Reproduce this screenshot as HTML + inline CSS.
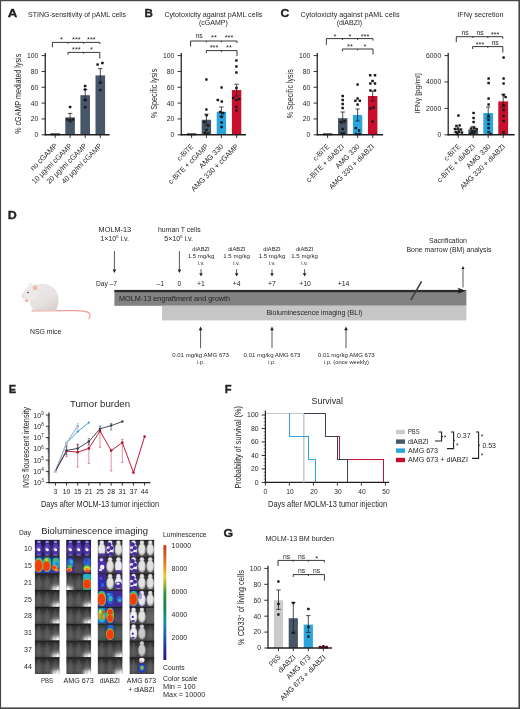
<!DOCTYPE html>
<html lang="en"><head><meta charset="utf-8"><title>Figure</title>
<style>html,body{margin:0;padding:0;background:#fff}svg{display:block;opacity:0.999}text{font-family:"Liberation Sans", sans-serif;fill:#231f20}</style></head><body>
<svg width="520" height="709" viewBox="0 0 520 709">
<rect x="0" y="0" width="520" height="709" fill="#fff"/>
<text x="7.80" y="17.30" font-size="11.8" font-weight="bold" textLength="9.60" lengthAdjust="spacingAndGlyphs" stroke="#231f20" stroke-width="0.35">A</text>
<text x="28.00" y="16.50" font-size="7.2" textLength="98.00" lengthAdjust="spacingAndGlyphs">STING-sensitivity of pAML cells</text>
<text x="20.60" y="93.80" font-size="8.8" text-anchor="middle" transform="rotate(-90 20.60 93.80)" textLength="80.00" lengthAdjust="spacingAndGlyphs">% cGAMP mediated lysis</text>
<rect x="65.30" y="117.38" width="9.60" height="17.42" fill="#475668"/>
<rect x="80.40" y="95.20" width="9.60" height="39.60" fill="#475668"/>
<rect x="95.50" y="75.40" width="9.60" height="59.40" fill="#475668"/>
<line x1="45.25" y1="53.00" x2="45.25" y2="135.40" stroke="#231f20" stroke-width="1.25"/>
<line x1="44.65" y1="134.80" x2="109.60" y2="134.80" stroke="#231f20" stroke-width="1.4"/>
<line x1="41.55" y1="134.80" x2="45.25" y2="134.80" stroke="#231f20" stroke-width="0.9"/>
<text x="38.25" y="137.20" font-size="6.8" text-anchor="end">0</text>
<line x1="41.55" y1="118.96" x2="45.25" y2="118.96" stroke="#231f20" stroke-width="0.9"/>
<text x="38.25" y="121.36" font-size="6.8" text-anchor="end">20</text>
<line x1="41.55" y1="103.12" x2="45.25" y2="103.12" stroke="#231f20" stroke-width="0.9"/>
<text x="38.25" y="105.52" font-size="6.8" text-anchor="end">40</text>
<line x1="41.55" y1="87.28" x2="45.25" y2="87.28" stroke="#231f20" stroke-width="0.9"/>
<text x="38.25" y="89.68" font-size="6.8" text-anchor="end">60</text>
<line x1="41.55" y1="71.44" x2="45.25" y2="71.44" stroke="#231f20" stroke-width="0.9"/>
<text x="38.25" y="73.84" font-size="6.8" text-anchor="end">80</text>
<line x1="41.55" y1="55.60" x2="45.25" y2="55.60" stroke="#231f20" stroke-width="0.9"/>
<text x="38.25" y="58.00" font-size="6.8" text-anchor="end">100</text>
<line x1="55.20" y1="134.80" x2="55.20" y2="138.00" stroke="#231f20" stroke-width="0.9"/>
<line x1="50.40" y1="134.30" x2="60.00" y2="134.30" stroke="#141414" stroke-width="1.8"/>
<line x1="70.10" y1="134.80" x2="70.10" y2="138.00" stroke="#231f20" stroke-width="0.9"/>
<line x1="70.10" y1="113.40" x2="70.10" y2="122.00" stroke="#231f20" stroke-width="0.8"/>
<line x1="67.90" y1="113.40" x2="72.30" y2="113.40" stroke="#231f20" stroke-width="0.8"/>
<line x1="67.90" y1="122.00" x2="72.30" y2="122.00" stroke="#231f20" stroke-width="0.8"/>
<rect x="68.85" y="105.75" width="2.5" height="2.5" rx="0.55" fill="#1a1a1a"/>
<rect x="65.95" y="118.35" width="2.5" height="2.5" rx="0.55" fill="#1a1a1a"/>
<rect x="68.95" y="118.95" width="2.5" height="2.5" rx="0.55" fill="#1a1a1a"/>
<rect x="71.75" y="118.15" width="2.5" height="2.5" rx="0.55" fill="#1a1a1a"/>
<line x1="85.20" y1="134.80" x2="85.20" y2="138.00" stroke="#231f20" stroke-width="0.9"/>
<line x1="85.20" y1="89.60" x2="85.20" y2="100.40" stroke="#231f20" stroke-width="0.8"/>
<line x1="83.00" y1="89.60" x2="87.40" y2="89.60" stroke="#231f20" stroke-width="0.8"/>
<line x1="83.00" y1="100.40" x2="87.40" y2="100.40" stroke="#231f20" stroke-width="0.8"/>
<rect x="83.95" y="84.75" width="2.5" height="2.5" rx="0.55" fill="#1a1a1a"/>
<rect x="83.95" y="88.15" width="2.5" height="2.5" rx="0.55" fill="#1a1a1a"/>
<rect x="83.95" y="98.75" width="2.5" height="2.5" rx="0.55" fill="#1a1a1a"/>
<rect x="83.95" y="105.95" width="2.5" height="2.5" rx="0.55" fill="#1a1a1a"/>
<line x1="100.30" y1="134.80" x2="100.30" y2="138.00" stroke="#231f20" stroke-width="0.9"/>
<line x1="100.30" y1="68.60" x2="100.30" y2="83.00" stroke="#231f20" stroke-width="0.8"/>
<line x1="98.10" y1="68.60" x2="102.50" y2="68.60" stroke="#231f20" stroke-width="0.8"/>
<line x1="98.10" y1="83.00" x2="102.50" y2="83.00" stroke="#231f20" stroke-width="0.8"/>
<rect x="96.35" y="63.35" width="2.5" height="2.5" rx="0.55" fill="#1a1a1a"/>
<rect x="101.15" y="61.75" width="2.5" height="2.5" rx="0.55" fill="#1a1a1a"/>
<rect x="99.05" y="81.35" width="2.5" height="2.5" rx="0.55" fill="#1a1a1a"/>
<rect x="99.05" y="88.75" width="2.5" height="2.5" rx="0.55" fill="#1a1a1a"/>
<path d="M52.40 47.20V42.40H99.80V44.00" stroke="#231f20" stroke-width="0.9" fill="none"/>
<line x1="68.00" y1="42.40" x2="68.00" y2="43.70" stroke="#231f20" stroke-width="0.9"/>
<line x1="83.60" y1="42.40" x2="83.60" y2="43.70" stroke="#231f20" stroke-width="0.9"/>
<path d="M68.00 54.80V52.40H99.80V58.40" stroke="#231f20" stroke-width="0.9" fill="none"/>
<line x1="83.60" y1="52.40" x2="83.60" y2="53.70" stroke="#231f20" stroke-width="0.9"/>
<text x="61.40" y="41.90" font-size="7.4" text-anchor="middle">*</text>
<text x="76.40" y="41.90" font-size="7.4" text-anchor="middle">***</text>
<text x="91.40" y="41.90" font-size="7.4" text-anchor="middle">***</text>
<text x="76.40" y="52.00" font-size="7.4" text-anchor="middle">***</text>
<text x="91.40" y="52.00" font-size="7.4" text-anchor="middle">*</text>
<text x="57.80" y="146.40" font-size="7.4" text-anchor="end" transform="rotate(-45 57.80 146.40)" textLength="34.80" lengthAdjust="spacingAndGlyphs">no cGAMP</text>
<text x="72.60" y="146.40" font-size="7.4" text-anchor="end" transform="rotate(-45 72.60 146.40)" textLength="53.50" lengthAdjust="spacingAndGlyphs">10 µg/ml cGAMP</text>
<text x="87.40" y="146.40" font-size="7.4" text-anchor="end" transform="rotate(-45 87.40 146.40)" textLength="53.50" lengthAdjust="spacingAndGlyphs">20 µg/ml cGAMP</text>
<text x="102.40" y="146.40" font-size="7.4" text-anchor="end" transform="rotate(-45 102.40 146.40)" textLength="53.50" lengthAdjust="spacingAndGlyphs">40 µg/ml cGAMP</text>
<text x="144.60" y="17.30" font-size="11.8" font-weight="bold" textLength="8.40" lengthAdjust="spacingAndGlyphs" stroke="#231f20" stroke-width="0.35">B</text>
<text x="213.40" y="16.50" font-size="7.2" text-anchor="middle" textLength="98.00" lengthAdjust="spacingAndGlyphs">Cytotoxicity against pAML cells</text>
<text x="213.40" y="25.20" font-size="7.2" text-anchor="middle" textLength="28.80" lengthAdjust="spacingAndGlyphs">(cGAMP)</text>
<text x="157.30" y="93.40" font-size="8.8" text-anchor="middle" transform="rotate(-90 157.30 93.40)" textLength="49.40" lengthAdjust="spacingAndGlyphs">% Specific lysis</text>
<rect x="201.70" y="119.75" width="9.40" height="15.05" fill="#475668"/>
<rect x="216.70" y="111.83" width="9.40" height="22.97" fill="#2aa5de"/>
<rect x="231.90" y="90.05" width="9.40" height="44.75" fill="#c8102e"/>
<line x1="181.25" y1="53.00" x2="181.25" y2="135.40" stroke="#231f20" stroke-width="1.25"/>
<line x1="180.65" y1="134.80" x2="246.00" y2="134.80" stroke="#231f20" stroke-width="1.4"/>
<line x1="177.55" y1="134.80" x2="181.25" y2="134.80" stroke="#231f20" stroke-width="0.9"/>
<text x="174.25" y="137.20" font-size="6.8" text-anchor="end">0</text>
<line x1="177.55" y1="118.96" x2="181.25" y2="118.96" stroke="#231f20" stroke-width="0.9"/>
<text x="174.25" y="121.36" font-size="6.8" text-anchor="end">20</text>
<line x1="177.55" y1="103.12" x2="181.25" y2="103.12" stroke="#231f20" stroke-width="0.9"/>
<text x="174.25" y="105.52" font-size="6.8" text-anchor="end">40</text>
<line x1="177.55" y1="87.28" x2="181.25" y2="87.28" stroke="#231f20" stroke-width="0.9"/>
<text x="174.25" y="89.68" font-size="6.8" text-anchor="end">60</text>
<line x1="177.55" y1="71.44" x2="181.25" y2="71.44" stroke="#231f20" stroke-width="0.9"/>
<text x="174.25" y="73.84" font-size="6.8" text-anchor="end">80</text>
<line x1="177.55" y1="55.60" x2="181.25" y2="55.60" stroke="#231f20" stroke-width="0.9"/>
<text x="174.25" y="58.00" font-size="6.8" text-anchor="end">100</text>
<line x1="191.60" y1="134.80" x2="191.60" y2="138.00" stroke="#231f20" stroke-width="0.9"/>
<line x1="186.90" y1="134.30" x2="196.30" y2="134.30" stroke="#141414" stroke-width="1.8"/>
<line x1="206.40" y1="134.80" x2="206.40" y2="138.00" stroke="#231f20" stroke-width="0.9"/>
<line x1="206.40" y1="114.20" x2="206.40" y2="125.20" stroke="#231f20" stroke-width="0.8"/>
<line x1="204.20" y1="114.20" x2="208.60" y2="114.20" stroke="#231f20" stroke-width="0.8"/>
<line x1="204.20" y1="125.20" x2="208.60" y2="125.20" stroke="#231f20" stroke-width="0.8"/>
<rect x="205.15" y="78.15" width="2.5" height="2.5" rx="0.55" fill="#1a1a1a"/>
<rect x="205.15" y="108.15" width="2.5" height="2.5" rx="0.55" fill="#1a1a1a"/>
<rect x="205.35" y="113.95" width="2.5" height="2.5" rx="0.55" fill="#1a1a1a"/>
<rect x="202.95" y="120.75" width="2.5" height="2.5" rx="0.55" fill="#1a1a1a"/>
<rect x="206.95" y="124.15" width="2.5" height="2.5" rx="0.55" fill="#1a1a1a"/>
<rect x="205.15" y="128.75" width="2.5" height="2.5" rx="0.55" fill="#1a1a1a"/>
<rect x="203.75" y="131.75" width="2.5" height="2.5" rx="0.55" fill="#1a1a1a"/>
<rect x="206.75" y="132.55" width="2.5" height="2.5" rx="0.55" fill="#1a1a1a"/>
<line x1="221.40" y1="134.80" x2="221.40" y2="138.00" stroke="#231f20" stroke-width="0.9"/>
<line x1="221.40" y1="107.00" x2="221.40" y2="116.20" stroke="#231f20" stroke-width="0.8"/>
<line x1="219.20" y1="107.00" x2="223.60" y2="107.00" stroke="#231f20" stroke-width="0.8"/>
<line x1="219.20" y1="116.20" x2="223.60" y2="116.20" stroke="#231f20" stroke-width="0.8"/>
<rect x="220.35" y="86.15" width="2.5" height="2.5" rx="0.55" fill="#1a1a1a"/>
<rect x="216.55" y="98.75" width="2.5" height="2.5" rx="0.55" fill="#1a1a1a"/>
<rect x="220.55" y="100.35" width="2.5" height="2.5" rx="0.55" fill="#1a1a1a"/>
<rect x="218.95" y="110.75" width="2.5" height="2.5" rx="0.55" fill="#1a1a1a"/>
<rect x="221.95" y="111.75" width="2.5" height="2.5" rx="0.55" fill="#1a1a1a"/>
<rect x="220.35" y="115.75" width="2.5" height="2.5" rx="0.55" fill="#1a1a1a"/>
<rect x="220.35" y="121.15" width="2.5" height="2.5" rx="0.55" fill="#1a1a1a"/>
<rect x="220.35" y="125.75" width="2.5" height="2.5" rx="0.55" fill="#1a1a1a"/>
<line x1="236.60" y1="134.80" x2="236.60" y2="138.00" stroke="#231f20" stroke-width="0.9"/>
<line x1="236.60" y1="84.20" x2="236.60" y2="96.00" stroke="#231f20" stroke-width="0.8"/>
<line x1="234.40" y1="84.20" x2="238.80" y2="84.20" stroke="#231f20" stroke-width="0.8"/>
<line x1="234.40" y1="96.00" x2="238.80" y2="96.00" stroke="#231f20" stroke-width="0.8"/>
<rect x="235.15" y="59.15" width="2.5" height="2.5" rx="0.55" fill="#1a1a1a"/>
<rect x="235.15" y="65.15" width="2.5" height="2.5" rx="0.55" fill="#1a1a1a"/>
<rect x="235.15" y="71.35" width="2.5" height="2.5" rx="0.55" fill="#1a1a1a"/>
<rect x="235.15" y="86.75" width="2.5" height="2.5" rx="0.55" fill="#1a1a1a"/>
<rect x="231.95" y="96.75" width="2.5" height="2.5" rx="0.55" fill="#1a1a1a"/>
<rect x="237.95" y="97.75" width="2.5" height="2.5" rx="0.55" fill="#1a1a1a"/>
<rect x="235.15" y="98.75" width="2.5" height="2.5" rx="0.55" fill="#1a1a1a"/>
<rect x="235.15" y="105.75" width="2.5" height="2.5" rx="0.55" fill="#1a1a1a"/>
<rect x="235.15" y="109.35" width="2.5" height="2.5" rx="0.55" fill="#1a1a1a"/>
<path d="M190.60 46.40V41.00H237.00V43.00" stroke="#231f20" stroke-width="0.9" fill="none"/>
<line x1="206.40" y1="41.00" x2="206.40" y2="42.30" stroke="#231f20" stroke-width="0.9"/>
<line x1="221.40" y1="41.00" x2="221.40" y2="42.30" stroke="#231f20" stroke-width="0.9"/>
<path d="M206.40 53.00V50.60H237.00V56.00" stroke="#231f20" stroke-width="0.9" fill="none"/>
<line x1="221.40" y1="50.60" x2="221.40" y2="51.90" stroke="#231f20" stroke-width="0.9"/>
<text x="199.00" y="38.20" font-size="6.8" text-anchor="middle">ns</text>
<text x="214.00" y="40.40" font-size="7.4" text-anchor="middle">**</text>
<text x="229.00" y="40.40" font-size="7.4" text-anchor="middle">***</text>
<text x="214.00" y="50.40" font-size="7.4" text-anchor="middle">***</text>
<text x="229.00" y="50.40" font-size="7.4" text-anchor="middle">**</text>
<text x="193.80" y="147.00" font-size="7.4" text-anchor="end" transform="rotate(-45 193.80 147.00)" textLength="20.00" lengthAdjust="spacingAndGlyphs">c-BiTE</text>
<text x="208.80" y="147.00" font-size="7.4" text-anchor="end" transform="rotate(-45 208.80 147.00)" textLength="53.00" lengthAdjust="spacingAndGlyphs">c-BiTE + cGAMP</text>
<text x="224.00" y="147.00" font-size="7.4" text-anchor="end" transform="rotate(-45 224.00 147.00)" textLength="31.00" lengthAdjust="spacingAndGlyphs">AMG 330</text>
<text x="239.00" y="147.00" font-size="7.4" text-anchor="end" transform="rotate(-45 239.00 147.00)" textLength="63.50" lengthAdjust="spacingAndGlyphs">AMG 330 + cGAMP</text>
<text x="280.40" y="17.30" font-size="11.8" font-weight="bold" textLength="8.80" lengthAdjust="spacingAndGlyphs" stroke="#231f20" stroke-width="0.35">C</text>
<text x="350.00" y="16.50" font-size="7.2" text-anchor="middle" textLength="99.00" lengthAdjust="spacingAndGlyphs">Cytotoxicity against pAML cells</text>
<text x="349.40" y="25.20" font-size="7.2" text-anchor="middle" textLength="25.50" lengthAdjust="spacingAndGlyphs">(diABZI)</text>
<text x="293.20" y="93.70" font-size="8.8" text-anchor="middle" transform="rotate(-90 293.20 93.70)" textLength="49.00" lengthAdjust="spacingAndGlyphs">% Specific lysis</text>
<rect x="338.00" y="118.17" width="9.40" height="16.63" fill="#475668"/>
<rect x="352.90" y="115.00" width="9.40" height="19.80" fill="#2aa5de"/>
<rect x="368.00" y="95.99" width="9.40" height="38.81" fill="#c8102e"/>
<line x1="317.25" y1="53.00" x2="317.25" y2="135.40" stroke="#231f20" stroke-width="1.25"/>
<line x1="316.65" y1="134.80" x2="383.00" y2="134.80" stroke="#231f20" stroke-width="1.4"/>
<line x1="313.55" y1="134.80" x2="317.25" y2="134.80" stroke="#231f20" stroke-width="0.9"/>
<text x="310.25" y="137.20" font-size="6.8" text-anchor="end">0</text>
<line x1="313.55" y1="118.96" x2="317.25" y2="118.96" stroke="#231f20" stroke-width="0.9"/>
<text x="310.25" y="121.36" font-size="6.8" text-anchor="end">20</text>
<line x1="313.55" y1="103.12" x2="317.25" y2="103.12" stroke="#231f20" stroke-width="0.9"/>
<text x="310.25" y="105.52" font-size="6.8" text-anchor="end">40</text>
<line x1="313.55" y1="87.28" x2="317.25" y2="87.28" stroke="#231f20" stroke-width="0.9"/>
<text x="310.25" y="89.68" font-size="6.8" text-anchor="end">60</text>
<line x1="313.55" y1="71.44" x2="317.25" y2="71.44" stroke="#231f20" stroke-width="0.9"/>
<text x="310.25" y="73.84" font-size="6.8" text-anchor="end">80</text>
<line x1="313.55" y1="55.60" x2="317.25" y2="55.60" stroke="#231f20" stroke-width="0.9"/>
<text x="310.25" y="58.00" font-size="6.8" text-anchor="end">100</text>
<line x1="327.60" y1="134.80" x2="327.60" y2="138.00" stroke="#231f20" stroke-width="0.9"/>
<line x1="322.90" y1="134.30" x2="332.30" y2="134.30" stroke="#141414" stroke-width="1.8"/>
<line x1="342.70" y1="134.80" x2="342.70" y2="138.00" stroke="#231f20" stroke-width="0.9"/>
<line x1="342.70" y1="112.00" x2="342.70" y2="123.00" stroke="#231f20" stroke-width="0.8"/>
<line x1="340.50" y1="112.00" x2="344.90" y2="112.00" stroke="#231f20" stroke-width="0.8"/>
<line x1="340.50" y1="123.00" x2="344.90" y2="123.00" stroke="#231f20" stroke-width="0.8"/>
<rect x="341.45" y="94.75" width="2.5" height="2.5" rx="0.55" fill="#1a1a1a"/>
<rect x="341.45" y="98.75" width="2.5" height="2.5" rx="0.55" fill="#1a1a1a"/>
<rect x="341.45" y="102.75" width="2.5" height="2.5" rx="0.55" fill="#1a1a1a"/>
<rect x="341.45" y="106.75" width="2.5" height="2.5" rx="0.55" fill="#1a1a1a"/>
<rect x="343.35" y="119.75" width="2.5" height="2.5" rx="0.55" fill="#1a1a1a"/>
<rect x="339.55" y="120.75" width="2.5" height="2.5" rx="0.55" fill="#1a1a1a"/>
<rect x="341.45" y="127.75" width="2.5" height="2.5" rx="0.55" fill="#1a1a1a"/>
<rect x="340.35" y="132.35" width="2.5" height="2.5" rx="0.55" fill="#1a1a1a"/>
<rect x="342.75" y="132.35" width="2.5" height="2.5" rx="0.55" fill="#1a1a1a"/>
<line x1="357.60" y1="134.80" x2="357.60" y2="138.00" stroke="#231f20" stroke-width="0.9"/>
<line x1="357.60" y1="109.00" x2="357.60" y2="121.00" stroke="#231f20" stroke-width="0.8"/>
<line x1="355.40" y1="109.00" x2="359.80" y2="109.00" stroke="#231f20" stroke-width="0.8"/>
<line x1="355.40" y1="121.00" x2="359.80" y2="121.00" stroke="#231f20" stroke-width="0.8"/>
<rect x="356.35" y="83.35" width="2.5" height="2.5" rx="0.55" fill="#1a1a1a"/>
<rect x="356.35" y="97.15" width="2.5" height="2.5" rx="0.55" fill="#1a1a1a"/>
<rect x="354.15" y="99.55" width="2.5" height="2.5" rx="0.55" fill="#1a1a1a"/>
<rect x="358.55" y="99.55" width="2.5" height="2.5" rx="0.55" fill="#1a1a1a"/>
<rect x="356.35" y="103.35" width="2.5" height="2.5" rx="0.55" fill="#1a1a1a"/>
<rect x="354.55" y="126.75" width="2.5" height="2.5" rx="0.55" fill="#1a1a1a"/>
<rect x="357.75" y="129.15" width="2.5" height="2.5" rx="0.55" fill="#1a1a1a"/>
<rect x="354.95" y="132.75" width="2.5" height="2.5" rx="0.55" fill="#1a1a1a"/>
<rect x="358.35" y="132.75" width="2.5" height="2.5" rx="0.55" fill="#1a1a1a"/>
<line x1="372.70" y1="134.80" x2="372.70" y2="138.00" stroke="#231f20" stroke-width="0.9"/>
<line x1="372.70" y1="91.00" x2="372.70" y2="101.00" stroke="#231f20" stroke-width="0.8"/>
<line x1="370.50" y1="91.00" x2="374.90" y2="91.00" stroke="#231f20" stroke-width="0.8"/>
<line x1="370.50" y1="101.00" x2="374.90" y2="101.00" stroke="#231f20" stroke-width="0.8"/>
<rect x="368.95" y="73.95" width="2.5" height="2.5" rx="0.55" fill="#1a1a1a"/>
<rect x="373.75" y="73.95" width="2.5" height="2.5" rx="0.55" fill="#1a1a1a"/>
<rect x="371.35" y="79.75" width="2.5" height="2.5" rx="0.55" fill="#1a1a1a"/>
<rect x="369.15" y="82.15" width="2.5" height="2.5" rx="0.55" fill="#1a1a1a"/>
<rect x="373.75" y="82.15" width="2.5" height="2.5" rx="0.55" fill="#1a1a1a"/>
<rect x="369.15" y="89.15" width="2.5" height="2.5" rx="0.55" fill="#1a1a1a"/>
<rect x="373.75" y="89.15" width="2.5" height="2.5" rx="0.55" fill="#1a1a1a"/>
<rect x="372.35" y="106.35" width="2.5" height="2.5" rx="0.55" fill="#1a1a1a"/>
<rect x="369.35" y="107.35" width="2.5" height="2.5" rx="0.55" fill="#1a1a1a"/>
<rect x="371.35" y="120.35" width="2.5" height="2.5" rx="0.55" fill="#1a1a1a"/>
<path d="M326.40 44.80V38.60H373.00V40.60" stroke="#231f20" stroke-width="0.9" fill="none"/>
<line x1="342.40" y1="38.60" x2="342.40" y2="39.90" stroke="#231f20" stroke-width="0.9"/>
<line x1="357.60" y1="38.60" x2="357.60" y2="39.90" stroke="#231f20" stroke-width="0.9"/>
<path d="M342.40 51.40V49.00H373.00V54.40" stroke="#231f20" stroke-width="0.9" fill="none"/>
<line x1="357.60" y1="49.00" x2="357.60" y2="50.30" stroke="#231f20" stroke-width="0.9"/>
<text x="335.00" y="38.80" font-size="7.4" text-anchor="middle">*</text>
<text x="350.00" y="38.80" font-size="7.4" text-anchor="middle">*</text>
<text x="365.00" y="38.80" font-size="7.4" text-anchor="middle">***</text>
<text x="350.00" y="49.40" font-size="7.4" text-anchor="middle">**</text>
<text x="365.00" y="49.40" font-size="7.4" text-anchor="middle">*</text>
<text x="329.80" y="147.00" font-size="7.4" text-anchor="end" transform="rotate(-45 329.80 147.00)" textLength="20.00" lengthAdjust="spacingAndGlyphs">c-BiTE</text>
<text x="344.60" y="147.00" font-size="7.4" text-anchor="end" transform="rotate(-45 344.60 147.00)" textLength="50.40" lengthAdjust="spacingAndGlyphs">c-BiTE + diABZI</text>
<text x="360.20" y="147.00" font-size="7.4" text-anchor="end" transform="rotate(-45 360.20 147.00)" textLength="31.00" lengthAdjust="spacingAndGlyphs">AMG 330</text>
<text x="374.80" y="147.00" font-size="7.4" text-anchor="end" transform="rotate(-45 374.80 147.00)" textLength="60.60" lengthAdjust="spacingAndGlyphs">AMG 330 + diABZI</text>
<text x="480.40" y="16.50" font-size="7.2" text-anchor="middle" textLength="46.20" lengthAdjust="spacingAndGlyphs">IFNγ secretion</text>
<text x="419.70" y="93.40" font-size="7.6" text-anchor="middle" transform="rotate(-90 419.70 93.40)" textLength="40.60" lengthAdjust="spacingAndGlyphs">IFNγ [pg/ml]</text>
<rect x="453.30" y="131.10" width="9.80" height="3.70" fill="#cbcbcb"/>
<rect x="468.30" y="129.52" width="9.80" height="5.28" fill="#475668"/>
<rect x="483.30" y="113.02" width="9.80" height="21.78" fill="#2aa5de"/>
<rect x="498.30" y="101.40" width="9.80" height="33.40" fill="#c8102e"/>
<line x1="448.20" y1="53.00" x2="448.20" y2="135.40" stroke="#231f20" stroke-width="1.25"/>
<line x1="447.60" y1="134.80" x2="514.60" y2="134.80" stroke="#231f20" stroke-width="1.4"/>
<line x1="444.50" y1="134.80" x2="448.20" y2="134.80" stroke="#231f20" stroke-width="0.9"/>
<text x="441.20" y="137.20" font-size="6.8" text-anchor="end">0</text>
<line x1="444.50" y1="108.40" x2="448.20" y2="108.40" stroke="#231f20" stroke-width="0.9"/>
<text x="441.20" y="110.80" font-size="6.8" text-anchor="end">2000</text>
<line x1="444.50" y1="82.00" x2="448.20" y2="82.00" stroke="#231f20" stroke-width="0.9"/>
<text x="441.20" y="84.40" font-size="6.8" text-anchor="end">4000</text>
<line x1="444.50" y1="55.60" x2="448.20" y2="55.60" stroke="#231f20" stroke-width="0.9"/>
<text x="441.20" y="58.00" font-size="6.8" text-anchor="end">6000</text>
<line x1="458.20" y1="134.80" x2="458.20" y2="138.00" stroke="#231f20" stroke-width="0.9"/>
<line x1="458.20" y1="129.40" x2="458.20" y2="132.60" stroke="#231f20" stroke-width="0.8"/>
<line x1="456.00" y1="129.40" x2="460.40" y2="129.40" stroke="#231f20" stroke-width="0.8"/>
<line x1="456.00" y1="132.60" x2="460.40" y2="132.60" stroke="#231f20" stroke-width="0.8"/>
<rect x="457.15" y="114.35" width="2.5" height="2.5" rx="0.55" fill="#1a1a1a"/>
<rect x="455.15" y="124.75" width="2.5" height="2.5" rx="0.55" fill="#1a1a1a"/>
<rect x="458.35" y="124.15" width="2.5" height="2.5" rx="0.55" fill="#1a1a1a"/>
<rect x="453.75" y="127.75" width="2.5" height="2.5" rx="0.55" fill="#1a1a1a"/>
<rect x="456.75" y="127.35" width="2.5" height="2.5" rx="0.55" fill="#1a1a1a"/>
<rect x="459.75" y="128.15" width="2.5" height="2.5" rx="0.55" fill="#1a1a1a"/>
<rect x="454.75" y="130.75" width="2.5" height="2.5" rx="0.55" fill="#1a1a1a"/>
<rect x="457.75" y="130.35" width="2.5" height="2.5" rx="0.55" fill="#1a1a1a"/>
<rect x="460.75" y="131.35" width="2.5" height="2.5" rx="0.55" fill="#1a1a1a"/>
<rect x="456.15" y="132.75" width="2.5" height="2.5" rx="0.55" fill="#1a1a1a"/>
<line x1="473.20" y1="134.80" x2="473.20" y2="138.00" stroke="#231f20" stroke-width="0.9"/>
<line x1="473.20" y1="126.40" x2="473.20" y2="132.00" stroke="#231f20" stroke-width="0.8"/>
<line x1="471.00" y1="126.40" x2="475.40" y2="126.40" stroke="#231f20" stroke-width="0.8"/>
<line x1="471.00" y1="132.00" x2="475.40" y2="132.00" stroke="#231f20" stroke-width="0.8"/>
<rect x="472.35" y="111.75" width="2.5" height="2.5" rx="0.55" fill="#1a1a1a"/>
<rect x="472.35" y="116.75" width="2.5" height="2.5" rx="0.55" fill="#1a1a1a"/>
<rect x="472.35" y="120.75" width="2.5" height="2.5" rx="0.55" fill="#1a1a1a"/>
<rect x="469.75" y="127.35" width="2.5" height="2.5" rx="0.55" fill="#1a1a1a"/>
<rect x="472.75" y="126.75" width="2.5" height="2.5" rx="0.55" fill="#1a1a1a"/>
<rect x="475.35" y="127.75" width="2.5" height="2.5" rx="0.55" fill="#1a1a1a"/>
<rect x="470.75" y="130.35" width="2.5" height="2.5" rx="0.55" fill="#1a1a1a"/>
<rect x="473.75" y="130.15" width="2.5" height="2.5" rx="0.55" fill="#1a1a1a"/>
<rect x="472.35" y="132.55" width="2.5" height="2.5" rx="0.55" fill="#1a1a1a"/>
<rect x="469.35" y="132.55" width="2.5" height="2.5" rx="0.55" fill="#1a1a1a"/>
<line x1="488.20" y1="134.80" x2="488.20" y2="138.00" stroke="#231f20" stroke-width="0.9"/>
<line x1="488.20" y1="107.00" x2="488.20" y2="118.00" stroke="#231f20" stroke-width="0.8"/>
<line x1="486.00" y1="107.00" x2="490.40" y2="107.00" stroke="#231f20" stroke-width="0.8"/>
<line x1="486.00" y1="118.00" x2="490.40" y2="118.00" stroke="#231f20" stroke-width="0.8"/>
<rect x="487.35" y="77.35" width="2.5" height="2.5" rx="0.55" fill="#1a1a1a"/>
<rect x="487.35" y="81.75" width="2.5" height="2.5" rx="0.55" fill="#1a1a1a"/>
<rect x="487.35" y="97.35" width="2.5" height="2.5" rx="0.55" fill="#1a1a1a"/>
<rect x="487.35" y="103.15" width="2.5" height="2.5" rx="0.55" fill="#1a1a1a"/>
<rect x="487.35" y="114.75" width="2.5" height="2.5" rx="0.55" fill="#1a1a1a"/>
<rect x="487.35" y="118.75" width="2.5" height="2.5" rx="0.55" fill="#1a1a1a"/>
<rect x="487.35" y="122.75" width="2.5" height="2.5" rx="0.55" fill="#1a1a1a"/>
<rect x="487.35" y="126.75" width="2.5" height="2.5" rx="0.55" fill="#1a1a1a"/>
<rect x="487.35" y="130.75" width="2.5" height="2.5" rx="0.55" fill="#1a1a1a"/>
<rect x="489.35" y="132.75" width="2.5" height="2.5" rx="0.55" fill="#1a1a1a"/>
<line x1="503.20" y1="134.80" x2="503.20" y2="138.00" stroke="#231f20" stroke-width="0.9"/>
<line x1="503.20" y1="94.20" x2="503.20" y2="107.00" stroke="#231f20" stroke-width="0.8"/>
<line x1="501.00" y1="94.20" x2="505.40" y2="94.20" stroke="#231f20" stroke-width="0.8"/>
<line x1="501.00" y1="107.00" x2="505.40" y2="107.00" stroke="#231f20" stroke-width="0.8"/>
<rect x="502.35" y="56.35" width="2.5" height="2.5" rx="0.55" fill="#1a1a1a"/>
<rect x="502.35" y="77.35" width="2.5" height="2.5" rx="0.55" fill="#1a1a1a"/>
<rect x="502.35" y="82.15" width="2.5" height="2.5" rx="0.55" fill="#1a1a1a"/>
<rect x="502.35" y="93.75" width="2.5" height="2.5" rx="0.55" fill="#1a1a1a"/>
<rect x="504.35" y="95.75" width="2.5" height="2.5" rx="0.55" fill="#1a1a1a"/>
<rect x="502.35" y="103.75" width="2.5" height="2.5" rx="0.55" fill="#1a1a1a"/>
<rect x="502.35" y="108.75" width="2.5" height="2.5" rx="0.55" fill="#1a1a1a"/>
<rect x="502.35" y="114.75" width="2.5" height="2.5" rx="0.55" fill="#1a1a1a"/>
<rect x="502.35" y="119.75" width="2.5" height="2.5" rx="0.55" fill="#1a1a1a"/>
<rect x="502.35" y="131.15" width="2.5" height="2.5" rx="0.55" fill="#1a1a1a"/>
<path d="M456.30 42.10V36.70H502.80V38.70" stroke="#231f20" stroke-width="0.9" fill="none"/>
<line x1="472.80" y1="36.70" x2="472.80" y2="38.00" stroke="#231f20" stroke-width="0.9"/>
<line x1="487.80" y1="36.70" x2="487.80" y2="38.00" stroke="#231f20" stroke-width="0.9"/>
<path d="M472.60 49.00V46.60H502.80V52.60" stroke="#231f20" stroke-width="0.9" fill="none"/>
<line x1="487.80" y1="46.60" x2="487.80" y2="47.90" stroke="#231f20" stroke-width="0.9"/>
<text x="465.00" y="35.00" font-size="6.8" text-anchor="middle">ns</text>
<text x="480.00" y="35.00" font-size="6.8" text-anchor="middle">ns</text>
<text x="495.00" y="37.20" font-size="7.4" text-anchor="middle">***</text>
<text x="480.00" y="47.00" font-size="7.4" text-anchor="middle">***</text>
<text x="495.00" y="44.80" font-size="6.8" text-anchor="middle">ns</text>
<text x="460.80" y="147.00" font-size="7.4" text-anchor="end" transform="rotate(-45 460.80 147.00)" textLength="20.00" lengthAdjust="spacingAndGlyphs">c-BiTE</text>
<text x="475.60" y="147.00" font-size="7.4" text-anchor="end" transform="rotate(-45 475.60 147.00)" textLength="50.40" lengthAdjust="spacingAndGlyphs">c-BiTE + diABZI</text>
<text x="491.20" y="147.00" font-size="7.4" text-anchor="end" transform="rotate(-45 491.20 147.00)" textLength="31.00" lengthAdjust="spacingAndGlyphs">AMG 330</text>
<text x="505.80" y="147.00" font-size="7.4" text-anchor="end" transform="rotate(-45 505.80 147.00)" textLength="60.60" lengthAdjust="spacingAndGlyphs">AMG 330 + diABZI</text>
<text x="7.80" y="219.20" font-size="11.8" font-weight="bold" textLength="9.00" lengthAdjust="spacingAndGlyphs" stroke="#231f20" stroke-width="0.35">D</text>
<defs><linearGradient id="mb" x1="0.2" y1="0" x2="0.8" y2="1"><stop offset="0" stop-color="#ebe8e7"/><stop offset="0.6" stop-color="#e6e2e1"/><stop offset="1" stop-color="#d8cfce"/></linearGradient></defs>
<g>
<path d="M32 310.9 L70 310.6 C78 310.4 85 310.6 88.2 312.4 C90.6 313.8 90.6 316.6 89.0 318.6" stroke="#ee9f9b" stroke-width="1.25" fill="none" stroke-linecap="round"/>
<path d="M29.6 301 C28.6 293 33 285.6 39 284.2 C48 282.2 58.4 288.5 58.4 299 C58.4 305 57.2 308.4 55.6 310.8 L34.5 311 C32 309 30.2 305 29.6 301Z" fill="url(#mb)"/>
<ellipse cx="30.4" cy="285.6" rx="2.3" ry="2.5" fill="#efecec"/>
<path d="M21.9 295.6 C22.8 290.6 26.8 285.8 32.0 286.0 C36.2 286.4 38.4 291 37.4 295.6 C36.4 300 31.4 302 27.4 301.2 C24.6 300.6 21.7 298.4 21.9 295.6Z" fill="#ece9e8"/>
<ellipse cx="35.0" cy="287.6" rx="3.0" ry="3.1" fill="#eadbd8"/>
<ellipse cx="35.2" cy="287.9" rx="1.9" ry="2.1" fill="#eeb0a8"/>
<circle cx="28.0" cy="292.6" r="0.75" fill="#3a2a2a"/>
<ellipse cx="22.4" cy="296.0" rx="0.8" ry="0.7" fill="#eda9a2"/>
<ellipse cx="26.6" cy="300.8" rx="1.8" ry="1.3" fill="#f0aaa2"/>
<ellipse cx="39.0" cy="310.4" rx="3.6" ry="0.9" fill="#f0c8c2"/>
<ellipse cx="50.0" cy="310.4" rx="4.4" ry="0.9" fill="#f0c8c2"/>
</g>
<text x="45.70" y="334.00" font-size="6.6" text-anchor="middle" textLength="31.40" lengthAdjust="spacingAndGlyphs">NSG mice</text>
<text x="114.90" y="231.90" font-size="6.9" text-anchor="middle" textLength="32.60" lengthAdjust="spacingAndGlyphs">MOLM-13</text>
<text x="114.60" y="240.60" font-size="6.9" text-anchor="middle" textLength="28.80" lengthAdjust="spacingAndGlyphs">1×10<tspan font-size="4" dy="-2.6">6</tspan><tspan dy="2.6"> i.v.</tspan></text>
<line x1="114.40" y1="251.00" x2="114.40" y2="269.80" stroke="#231f20" stroke-width="0.75"/>
<path d="M112.60 269.40L116.20 269.40L114.40 273.00Z" fill="#231f20"/>
<text x="179.30" y="231.90" font-size="6.9" text-anchor="middle" textLength="42.60" lengthAdjust="spacingAndGlyphs">human T cells</text>
<text x="178.60" y="240.60" font-size="6.9" text-anchor="middle" textLength="28.80" lengthAdjust="spacingAndGlyphs">5×10<tspan font-size="4" dy="-2.6">6</tspan><tspan dy="2.6"> i.v.</tspan></text>
<line x1="179.40" y1="251.00" x2="179.40" y2="269.80" stroke="#231f20" stroke-width="0.75"/>
<path d="M177.60 269.40L181.20 269.40L179.40 273.00Z" fill="#231f20"/>
<text x="201.00" y="251.00" font-size="5.5" text-anchor="middle" textLength="17.40" lengthAdjust="spacingAndGlyphs">diABZI</text>
<text x="201.00" y="257.80" font-size="5.5" text-anchor="middle" textLength="26.60" lengthAdjust="spacingAndGlyphs">1.5 mg/kg</text>
<text x="201.00" y="264.80" font-size="5.5" text-anchor="middle">i.v.</text>
<line x1="201.00" y1="269.20" x2="201.00" y2="273.60" stroke="#231f20" stroke-width="0.75"/>
<path d="M199.20 273.20L202.80 273.20L201.00 276.60Z" fill="#231f20"/>
<text x="236.60" y="251.00" font-size="5.5" text-anchor="middle" textLength="17.40" lengthAdjust="spacingAndGlyphs">diABZI</text>
<text x="236.60" y="257.80" font-size="5.5" text-anchor="middle" textLength="26.60" lengthAdjust="spacingAndGlyphs">1.5 mg/kg</text>
<text x="236.60" y="264.80" font-size="5.5" text-anchor="middle">i.v.</text>
<line x1="236.60" y1="269.20" x2="236.60" y2="273.60" stroke="#231f20" stroke-width="0.75"/>
<path d="M234.80 273.20L238.40 273.20L236.60 276.60Z" fill="#231f20"/>
<text x="272.00" y="251.00" font-size="5.5" text-anchor="middle" textLength="17.40" lengthAdjust="spacingAndGlyphs">diABZI</text>
<text x="272.00" y="257.80" font-size="5.5" text-anchor="middle" textLength="26.60" lengthAdjust="spacingAndGlyphs">1.5 mg/kg</text>
<text x="272.00" y="264.80" font-size="5.5" text-anchor="middle">i.v.</text>
<line x1="272.00" y1="269.20" x2="272.00" y2="273.60" stroke="#231f20" stroke-width="0.75"/>
<path d="M270.20 273.20L273.80 273.20L272.00 276.60Z" fill="#231f20"/>
<text x="304.60" y="251.00" font-size="5.5" text-anchor="middle" textLength="17.40" lengthAdjust="spacingAndGlyphs">diABZI</text>
<text x="304.60" y="257.80" font-size="5.5" text-anchor="middle" textLength="26.60" lengthAdjust="spacingAndGlyphs">1.5 mg/kg</text>
<text x="304.60" y="264.80" font-size="5.5" text-anchor="middle">i.v.</text>
<line x1="304.60" y1="269.20" x2="304.60" y2="273.60" stroke="#231f20" stroke-width="0.75"/>
<path d="M302.80 273.20L306.40 273.20L304.60 276.60Z" fill="#231f20"/>
<text x="96.00" y="285.60" font-size="6.9" textLength="21.00" lengthAdjust="spacingAndGlyphs">Day –7</text>
<text x="160.30" y="285.60" font-size="6.9" text-anchor="middle">–1</text>
<text x="179.40" y="285.60" font-size="6.9" text-anchor="middle">0</text>
<text x="201.00" y="285.60" font-size="6.9" text-anchor="middle">+1</text>
<text x="236.60" y="285.60" font-size="6.9" text-anchor="middle">+4</text>
<text x="272.00" y="285.60" font-size="6.9" text-anchor="middle">+7</text>
<text x="305.00" y="285.60" font-size="6.9" text-anchor="middle">+10</text>
<text x="343.60" y="285.60" font-size="6.9" text-anchor="middle">+14</text>
<rect x="114.40" y="290.00" width="352.00" height="15.80" fill="#828282"/>
<rect x="162.00" y="305.70" width="304.40" height="14.70" fill="#c6c6c6"/>
<rect x="114.40" y="289.90" width="346.00" height="2.30" fill="#2b2b2b"/>
<path d="M457.4 287.8L466.0 290.8L457.4 293.8L459.4 290.8Z" fill="#1f1f1f"/>
<text x="119.00" y="301.00" font-size="7.0" textLength="111.00" lengthAdjust="spacingAndGlyphs" fill="#1f1f1f">MOLM-13 engraftment and growth</text>
<text x="266.40" y="314.80" font-size="7.0" textLength="96.00" lengthAdjust="spacingAndGlyphs" fill="#1f1f1f">Bioluminescence imaging (BLI)</text>
<line x1="421.60" y1="281.40" x2="410.80" y2="300.20" stroke="#3f3f3f" stroke-width="1.6"/>
<line x1="463.00" y1="287.40" x2="463.00" y2="268.60" stroke="#231f20" stroke-width="0.75"/>
<path d="M461.50 269.00L464.50 269.00L463.00 266.00Z" fill="#231f20"/>
<text x="448.00" y="243.40" font-size="6.9" text-anchor="middle" textLength="38.00" lengthAdjust="spacingAndGlyphs">Sacrification</text>
<text x="449.00" y="252.00" font-size="6.9" text-anchor="middle" textLength="85.00" lengthAdjust="spacingAndGlyphs">Bone marrow (BM) analysis</text>
<line x1="200.60" y1="348.20" x2="200.60" y2="329.80" stroke="#231f20" stroke-width="0.75"/>
<path d="M198.80 330.20L202.40 330.20L200.60 326.60Z" fill="#231f20"/>
<text x="200.60" y="356.60" font-size="5.5" text-anchor="middle" textLength="56.80" lengthAdjust="spacingAndGlyphs">0.01 mg/kg AMG 673</text>
<text x="200.60" y="364.00" font-size="5.5" text-anchor="middle">i.p.</text>
<line x1="272.00" y1="348.20" x2="272.00" y2="329.80" stroke="#231f20" stroke-width="0.75"/>
<path d="M270.20 330.20L273.80 330.20L272.00 326.60Z" fill="#231f20"/>
<text x="272.00" y="356.60" font-size="5.5" text-anchor="middle" textLength="56.80" lengthAdjust="spacingAndGlyphs">0.01 mg/kg AMG 673</text>
<text x="272.00" y="364.00" font-size="5.5" text-anchor="middle">i.p.</text>
<line x1="346.00" y1="348.20" x2="346.00" y2="329.80" stroke="#231f20" stroke-width="0.75"/>
<path d="M344.20 330.20L347.80 330.20L346.00 326.60Z" fill="#231f20"/>
<text x="346.30" y="356.60" font-size="5.5" text-anchor="middle" textLength="56.80" lengthAdjust="spacingAndGlyphs">0.01 mg/kg AMG 673</text>
<text x="346.50" y="364.00" font-size="5.5" text-anchor="middle" textLength="45.00" lengthAdjust="spacingAndGlyphs">i.p. (once weekly)</text>
<text x="8.80" y="392.50" font-size="11.8" font-weight="bold" textLength="7.40" lengthAdjust="spacingAndGlyphs" stroke="#231f20" stroke-width="0.35">E</text>
<text x="100.00" y="407.40" font-size="9.9" text-anchor="middle" textLength="60.00" lengthAdjust="spacingAndGlyphs">Tumor burden</text>
<text x="28.50" y="447.50" font-size="8.8" text-anchor="middle" transform="rotate(-90 28.50 447.50)" textLength="81.00" lengthAdjust="spacingAndGlyphs">IVIS flourescent intensity</text>
<line x1="49.00" y1="412.60" x2="49.00" y2="483.20" stroke="#231f20" stroke-width="1.2"/>
<line x1="48.40" y1="482.60" x2="150.40" y2="482.60" stroke="#231f20" stroke-width="1.3"/>
<line x1="45.80" y1="482.60" x2="49.00" y2="482.60" stroke="#231f20" stroke-width="0.9"/>
<text x="43.80" y="485.20" font-size="7.0" text-anchor="end">10<tspan font-size="4.6" dy="-2.8">3</tspan></text>
<line x1="47.60" y1="479.21" x2="49.00" y2="479.21" stroke="#231f20" stroke-width="0.3"/>
<line x1="47.60" y1="477.22" x2="49.00" y2="477.22" stroke="#231f20" stroke-width="0.3"/>
<line x1="47.60" y1="475.81" x2="49.00" y2="475.81" stroke="#231f20" stroke-width="0.3"/>
<line x1="47.60" y1="474.72" x2="49.00" y2="474.72" stroke="#231f20" stroke-width="0.3"/>
<line x1="47.60" y1="473.83" x2="49.00" y2="473.83" stroke="#231f20" stroke-width="0.3"/>
<line x1="47.60" y1="473.08" x2="49.00" y2="473.08" stroke="#231f20" stroke-width="0.3"/>
<line x1="47.60" y1="472.42" x2="49.00" y2="472.42" stroke="#231f20" stroke-width="0.3"/>
<line x1="47.60" y1="471.85" x2="49.00" y2="471.85" stroke="#231f20" stroke-width="0.3"/>
<line x1="45.80" y1="471.33" x2="49.00" y2="471.33" stroke="#231f20" stroke-width="0.9"/>
<text x="43.80" y="473.93" font-size="7.0" text-anchor="end">10<tspan font-size="4.6" dy="-2.8">4</tspan></text>
<line x1="47.60" y1="467.94" x2="49.00" y2="467.94" stroke="#231f20" stroke-width="0.3"/>
<line x1="47.60" y1="465.95" x2="49.00" y2="465.95" stroke="#231f20" stroke-width="0.3"/>
<line x1="47.60" y1="464.54" x2="49.00" y2="464.54" stroke="#231f20" stroke-width="0.3"/>
<line x1="47.60" y1="463.45" x2="49.00" y2="463.45" stroke="#231f20" stroke-width="0.3"/>
<line x1="47.60" y1="462.56" x2="49.00" y2="462.56" stroke="#231f20" stroke-width="0.3"/>
<line x1="47.60" y1="461.81" x2="49.00" y2="461.81" stroke="#231f20" stroke-width="0.3"/>
<line x1="47.60" y1="461.15" x2="49.00" y2="461.15" stroke="#231f20" stroke-width="0.3"/>
<line x1="47.60" y1="460.58" x2="49.00" y2="460.58" stroke="#231f20" stroke-width="0.3"/>
<line x1="45.80" y1="460.06" x2="49.00" y2="460.06" stroke="#231f20" stroke-width="0.9"/>
<text x="43.80" y="462.66" font-size="7.0" text-anchor="end">10<tspan font-size="4.6" dy="-2.8">5</tspan></text>
<line x1="47.60" y1="456.67" x2="49.00" y2="456.67" stroke="#231f20" stroke-width="0.3"/>
<line x1="47.60" y1="454.68" x2="49.00" y2="454.68" stroke="#231f20" stroke-width="0.3"/>
<line x1="47.60" y1="453.27" x2="49.00" y2="453.27" stroke="#231f20" stroke-width="0.3"/>
<line x1="47.60" y1="452.18" x2="49.00" y2="452.18" stroke="#231f20" stroke-width="0.3"/>
<line x1="47.60" y1="451.29" x2="49.00" y2="451.29" stroke="#231f20" stroke-width="0.3"/>
<line x1="47.60" y1="450.54" x2="49.00" y2="450.54" stroke="#231f20" stroke-width="0.3"/>
<line x1="47.60" y1="449.88" x2="49.00" y2="449.88" stroke="#231f20" stroke-width="0.3"/>
<line x1="47.60" y1="449.31" x2="49.00" y2="449.31" stroke="#231f20" stroke-width="0.3"/>
<line x1="45.80" y1="448.79" x2="49.00" y2="448.79" stroke="#231f20" stroke-width="0.9"/>
<text x="43.80" y="451.39" font-size="7.0" text-anchor="end">10<tspan font-size="4.6" dy="-2.8">6</tspan></text>
<line x1="47.60" y1="445.40" x2="49.00" y2="445.40" stroke="#231f20" stroke-width="0.3"/>
<line x1="47.60" y1="443.41" x2="49.00" y2="443.41" stroke="#231f20" stroke-width="0.3"/>
<line x1="47.60" y1="442.00" x2="49.00" y2="442.00" stroke="#231f20" stroke-width="0.3"/>
<line x1="47.60" y1="440.91" x2="49.00" y2="440.91" stroke="#231f20" stroke-width="0.3"/>
<line x1="47.60" y1="440.02" x2="49.00" y2="440.02" stroke="#231f20" stroke-width="0.3"/>
<line x1="47.60" y1="439.27" x2="49.00" y2="439.27" stroke="#231f20" stroke-width="0.3"/>
<line x1="47.60" y1="438.61" x2="49.00" y2="438.61" stroke="#231f20" stroke-width="0.3"/>
<line x1="47.60" y1="438.04" x2="49.00" y2="438.04" stroke="#231f20" stroke-width="0.3"/>
<line x1="45.80" y1="437.52" x2="49.00" y2="437.52" stroke="#231f20" stroke-width="0.9"/>
<text x="43.80" y="440.12" font-size="7.0" text-anchor="end">10<tspan font-size="4.6" dy="-2.8">7</tspan></text>
<line x1="47.60" y1="434.13" x2="49.00" y2="434.13" stroke="#231f20" stroke-width="0.3"/>
<line x1="47.60" y1="432.14" x2="49.00" y2="432.14" stroke="#231f20" stroke-width="0.3"/>
<line x1="47.60" y1="430.73" x2="49.00" y2="430.73" stroke="#231f20" stroke-width="0.3"/>
<line x1="47.60" y1="429.64" x2="49.00" y2="429.64" stroke="#231f20" stroke-width="0.3"/>
<line x1="47.60" y1="428.75" x2="49.00" y2="428.75" stroke="#231f20" stroke-width="0.3"/>
<line x1="47.60" y1="428.00" x2="49.00" y2="428.00" stroke="#231f20" stroke-width="0.3"/>
<line x1="47.60" y1="427.34" x2="49.00" y2="427.34" stroke="#231f20" stroke-width="0.3"/>
<line x1="47.60" y1="426.77" x2="49.00" y2="426.77" stroke="#231f20" stroke-width="0.3"/>
<line x1="45.80" y1="426.25" x2="49.00" y2="426.25" stroke="#231f20" stroke-width="0.9"/>
<text x="43.80" y="428.85" font-size="7.0" text-anchor="end">10<tspan font-size="4.6" dy="-2.8">8</tspan></text>
<line x1="47.60" y1="422.86" x2="49.00" y2="422.86" stroke="#231f20" stroke-width="0.3"/>
<line x1="47.60" y1="420.87" x2="49.00" y2="420.87" stroke="#231f20" stroke-width="0.3"/>
<line x1="47.60" y1="419.46" x2="49.00" y2="419.46" stroke="#231f20" stroke-width="0.3"/>
<line x1="47.60" y1="418.37" x2="49.00" y2="418.37" stroke="#231f20" stroke-width="0.3"/>
<line x1="47.60" y1="417.48" x2="49.00" y2="417.48" stroke="#231f20" stroke-width="0.3"/>
<line x1="47.60" y1="416.73" x2="49.00" y2="416.73" stroke="#231f20" stroke-width="0.3"/>
<line x1="47.60" y1="416.07" x2="49.00" y2="416.07" stroke="#231f20" stroke-width="0.3"/>
<line x1="47.60" y1="415.50" x2="49.00" y2="415.50" stroke="#231f20" stroke-width="0.3"/>
<line x1="45.80" y1="414.98" x2="49.00" y2="414.98" stroke="#231f20" stroke-width="0.9"/>
<text x="43.80" y="417.58" font-size="7.0" text-anchor="end">10<tspan font-size="4.6" dy="-2.8">9</tspan></text>
<line x1="55.40" y1="482.60" x2="55.40" y2="485.60" stroke="#231f20" stroke-width="0.9"/>
<text x="55.40" y="494.20" font-size="6.8" text-anchor="middle">3</text>
<line x1="66.55" y1="482.60" x2="66.55" y2="485.60" stroke="#231f20" stroke-width="0.9"/>
<text x="66.55" y="494.20" font-size="6.8" text-anchor="middle">10</text>
<line x1="77.70" y1="482.60" x2="77.70" y2="485.60" stroke="#231f20" stroke-width="0.9"/>
<text x="77.70" y="494.20" font-size="6.8" text-anchor="middle">15</text>
<line x1="88.85" y1="482.60" x2="88.85" y2="485.60" stroke="#231f20" stroke-width="0.9"/>
<text x="88.85" y="494.20" font-size="6.8" text-anchor="middle">21</text>
<line x1="100.00" y1="482.60" x2="100.00" y2="485.60" stroke="#231f20" stroke-width="0.9"/>
<text x="100.00" y="494.20" font-size="6.8" text-anchor="middle">25</text>
<line x1="111.15" y1="482.60" x2="111.15" y2="485.60" stroke="#231f20" stroke-width="0.9"/>
<text x="111.15" y="494.20" font-size="6.8" text-anchor="middle">28</text>
<line x1="122.30" y1="482.60" x2="122.30" y2="485.60" stroke="#231f20" stroke-width="0.9"/>
<text x="122.30" y="494.20" font-size="6.8" text-anchor="middle">31</text>
<line x1="133.45" y1="482.60" x2="133.45" y2="485.60" stroke="#231f20" stroke-width="0.9"/>
<text x="133.45" y="494.20" font-size="6.8" text-anchor="middle">37</text>
<line x1="144.60" y1="482.60" x2="144.60" y2="485.60" stroke="#231f20" stroke-width="0.9"/>
<text x="144.60" y="494.20" font-size="6.8" text-anchor="middle">44</text>
<text x="100.00" y="507.00" font-size="8.6" text-anchor="middle" textLength="118.00" lengthAdjust="spacingAndGlyphs">Days after MOLM-13 tumor injection</text>
<line x1="77.70" y1="423.40" x2="77.70" y2="430.00" stroke="#e7a6c0" stroke-width="0.6"/>
<line x1="76.50" y1="423.40" x2="78.90" y2="423.40" stroke="#e7a6c0" stroke-width="0.6"/>
<line x1="76.50" y1="430.00" x2="78.90" y2="430.00" stroke="#e7a6c0" stroke-width="0.6"/>
<line x1="66.55" y1="445.00" x2="66.55" y2="456.60" stroke="#cc4560" stroke-width="0.6"/>
<line x1="65.35" y1="445.00" x2="67.75" y2="445.00" stroke="#cc4560" stroke-width="0.6"/>
<line x1="65.35" y1="456.60" x2="67.75" y2="456.60" stroke="#cc4560" stroke-width="0.6"/>
<line x1="77.70" y1="444.00" x2="77.70" y2="467.00" stroke="#cc4560" stroke-width="0.6"/>
<line x1="76.50" y1="444.00" x2="78.90" y2="444.00" stroke="#cc4560" stroke-width="0.6"/>
<line x1="76.50" y1="467.00" x2="78.90" y2="467.00" stroke="#cc4560" stroke-width="0.6"/>
<line x1="88.85" y1="441.20" x2="88.85" y2="463.40" stroke="#cc4560" stroke-width="0.6"/>
<line x1="87.65" y1="441.20" x2="90.05" y2="441.20" stroke="#cc4560" stroke-width="0.6"/>
<line x1="87.65" y1="463.40" x2="90.05" y2="463.40" stroke="#cc4560" stroke-width="0.6"/>
<line x1="100.00" y1="431.00" x2="100.00" y2="447.40" stroke="#cc4560" stroke-width="0.6"/>
<line x1="98.80" y1="431.00" x2="101.20" y2="431.00" stroke="#cc4560" stroke-width="0.6"/>
<line x1="98.80" y1="447.40" x2="101.20" y2="447.40" stroke="#cc4560" stroke-width="0.6"/>
<line x1="111.15" y1="450.60" x2="111.15" y2="471.00" stroke="#cc4560" stroke-width="0.6"/>
<line x1="109.95" y1="450.60" x2="112.35" y2="450.60" stroke="#cc4560" stroke-width="0.6"/>
<line x1="109.95" y1="471.00" x2="112.35" y2="471.00" stroke="#cc4560" stroke-width="0.6"/>
<line x1="122.30" y1="439.40" x2="122.30" y2="462.40" stroke="#cc4560" stroke-width="0.6"/>
<line x1="121.10" y1="439.40" x2="123.50" y2="439.40" stroke="#cc4560" stroke-width="0.6"/>
<line x1="121.10" y1="462.40" x2="123.50" y2="462.40" stroke="#cc4560" stroke-width="0.6"/>
<line x1="66.55" y1="446.60" x2="66.55" y2="454.60" stroke="#4a4f57" stroke-width="0.6"/>
<line x1="65.35" y1="446.60" x2="67.75" y2="446.60" stroke="#4a4f57" stroke-width="0.6"/>
<line x1="65.35" y1="454.60" x2="67.75" y2="454.60" stroke="#4a4f57" stroke-width="0.6"/>
<line x1="77.70" y1="444.80" x2="77.70" y2="452.20" stroke="#4a4f57" stroke-width="0.6"/>
<line x1="76.50" y1="444.80" x2="78.90" y2="444.80" stroke="#4a4f57" stroke-width="0.6"/>
<line x1="76.50" y1="452.20" x2="78.90" y2="452.20" stroke="#4a4f57" stroke-width="0.6"/>
<line x1="88.85" y1="438.60" x2="88.85" y2="444.60" stroke="#4a4f57" stroke-width="0.6"/>
<line x1="87.65" y1="438.60" x2="90.05" y2="438.60" stroke="#4a4f57" stroke-width="0.6"/>
<line x1="87.65" y1="444.60" x2="90.05" y2="444.60" stroke="#4a4f57" stroke-width="0.6"/>
<line x1="100.00" y1="426.00" x2="100.00" y2="432.00" stroke="#4a4f57" stroke-width="0.6"/>
<line x1="98.80" y1="426.00" x2="101.20" y2="426.00" stroke="#4a4f57" stroke-width="0.6"/>
<line x1="98.80" y1="432.00" x2="101.20" y2="432.00" stroke="#4a4f57" stroke-width="0.6"/>
<line x1="111.15" y1="423.40" x2="111.15" y2="430.00" stroke="#4a4f57" stroke-width="0.6"/>
<line x1="109.95" y1="423.40" x2="112.35" y2="423.40" stroke="#4a4f57" stroke-width="0.6"/>
<line x1="109.95" y1="430.00" x2="112.35" y2="430.00" stroke="#4a4f57" stroke-width="0.6"/>
<path d="M55.40 471.40L66.55 443.00L77.70 431.60L88.85 422.60" stroke="#2a9fd3" stroke-width="0.9" fill="none" stroke-linejoin="round" stroke-linecap="round"/>
<path d="M55.40 471.40L66.55 443.00L77.70 426.00" stroke="#a9bdd0" stroke-width="1.35" fill="none" stroke-linejoin="round" stroke-linecap="round"/>
<path d="M55.40 471.20L66.55 451.00L77.70 452.20L88.85 448.40L100.00 431.00L111.15 450.60L122.30 442.60L133.45 472.60L144.60 436.60" stroke="#b8112f" stroke-width="0.95" fill="none" stroke-linejoin="round" stroke-linecap="round"/>
<path d="M55.40 471.20L66.55 450.40L77.70 448.40L88.85 441.60L100.00 428.80L111.15 425.60L122.30 421.60" stroke="#3b4352" stroke-width="0.95" fill="none" stroke-linejoin="round" stroke-linecap="round"/>
<circle cx="77.70" cy="431.60" r="1.05" fill="#2a9fd3"/>
<circle cx="88.85" cy="422.60" r="1.05" fill="#2a9fd3"/>
<rect x="54.05" y="470.05" width="2.70" height="2.70" fill="#a9bdd0"/>
<rect x="65.20" y="441.65" width="2.70" height="2.70" fill="#a9bdd0"/>
<rect x="76.35" y="424.65" width="2.70" height="2.70" fill="#a9bdd0"/>
<circle cx="66.55" cy="451.00" r="1.3" fill="#b8112f"/>
<circle cx="77.70" cy="452.20" r="1.3" fill="#b8112f"/>
<circle cx="88.85" cy="448.40" r="1.3" fill="#b8112f"/>
<circle cx="100.00" cy="431.00" r="1.3" fill="#b8112f"/>
<circle cx="111.15" cy="450.60" r="1.3" fill="#b8112f"/>
<circle cx="122.30" cy="442.60" r="1.3" fill="#b8112f"/>
<circle cx="133.45" cy="472.60" r="1.3" fill="#b8112f"/>
<circle cx="144.60" cy="436.60" r="1.3" fill="#b8112f"/>
<circle cx="66.55" cy="450.40" r="1.25" fill="#3b4352"/>
<circle cx="77.70" cy="448.40" r="1.25" fill="#3b4352"/>
<circle cx="88.85" cy="441.60" r="1.25" fill="#3b4352"/>
<circle cx="100.00" cy="428.80" r="1.25" fill="#3b4352"/>
<circle cx="111.15" cy="425.60" r="1.25" fill="#3b4352"/>
<circle cx="122.30" cy="421.60" r="1.25" fill="#3b4352"/>
<text x="224.80" y="392.50" font-size="11.8" font-weight="bold" textLength="6.80" lengthAdjust="spacingAndGlyphs" stroke="#231f20" stroke-width="0.35">F</text>
<text x="327.30" y="404.20" font-size="9.9" text-anchor="middle" textLength="31.40" lengthAdjust="spacingAndGlyphs">Survival</text>
<text x="241.40" y="447.30" font-size="8.4" text-anchor="middle" transform="rotate(-90 241.40 447.30)" textLength="82.60" lengthAdjust="spacingAndGlyphs">Probability of survival (%)</text>
<line x1="265.40" y1="410.60" x2="265.40" y2="483.00" stroke="#231f20" stroke-width="1.2"/>
<line x1="264.80" y1="482.40" x2="389.20" y2="482.40" stroke="#231f20" stroke-width="1.3"/>
<line x1="261.60" y1="482.40" x2="265.40" y2="482.40" stroke="#231f20" stroke-width="0.9"/>
<text x="258.60" y="484.80" font-size="6.9" text-anchor="end">0</text>
<line x1="261.60" y1="468.92" x2="265.40" y2="468.92" stroke="#231f20" stroke-width="0.9"/>
<text x="258.60" y="471.32" font-size="6.9" text-anchor="end">20</text>
<line x1="261.60" y1="455.44" x2="265.40" y2="455.44" stroke="#231f20" stroke-width="0.9"/>
<text x="258.60" y="457.84" font-size="6.9" text-anchor="end">40</text>
<line x1="261.60" y1="441.96" x2="265.40" y2="441.96" stroke="#231f20" stroke-width="0.9"/>
<text x="258.60" y="444.36" font-size="6.9" text-anchor="end">60</text>
<line x1="261.60" y1="428.48" x2="265.40" y2="428.48" stroke="#231f20" stroke-width="0.9"/>
<text x="258.60" y="430.88" font-size="6.9" text-anchor="end">80</text>
<line x1="261.60" y1="415.00" x2="265.40" y2="415.00" stroke="#231f20" stroke-width="0.9"/>
<text x="258.60" y="417.40" font-size="6.9" text-anchor="end">100</text>
<line x1="263.60" y1="479.03" x2="265.40" y2="479.03" stroke="#231f20" stroke-width="0.5"/>
<line x1="263.60" y1="475.66" x2="265.40" y2="475.66" stroke="#231f20" stroke-width="0.5"/>
<line x1="263.60" y1="472.29" x2="265.40" y2="472.29" stroke="#231f20" stroke-width="0.5"/>
<line x1="263.60" y1="465.55" x2="265.40" y2="465.55" stroke="#231f20" stroke-width="0.5"/>
<line x1="263.60" y1="462.18" x2="265.40" y2="462.18" stroke="#231f20" stroke-width="0.5"/>
<line x1="263.60" y1="458.81" x2="265.40" y2="458.81" stroke="#231f20" stroke-width="0.5"/>
<line x1="263.60" y1="452.07" x2="265.40" y2="452.07" stroke="#231f20" stroke-width="0.5"/>
<line x1="263.60" y1="448.70" x2="265.40" y2="448.70" stroke="#231f20" stroke-width="0.5"/>
<line x1="263.60" y1="445.33" x2="265.40" y2="445.33" stroke="#231f20" stroke-width="0.5"/>
<line x1="263.60" y1="438.59" x2="265.40" y2="438.59" stroke="#231f20" stroke-width="0.5"/>
<line x1="263.60" y1="435.22" x2="265.40" y2="435.22" stroke="#231f20" stroke-width="0.5"/>
<line x1="263.60" y1="431.85" x2="265.40" y2="431.85" stroke="#231f20" stroke-width="0.5"/>
<line x1="263.60" y1="425.11" x2="265.40" y2="425.11" stroke="#231f20" stroke-width="0.5"/>
<line x1="263.60" y1="421.74" x2="265.40" y2="421.74" stroke="#231f20" stroke-width="0.5"/>
<line x1="263.60" y1="418.37" x2="265.40" y2="418.37" stroke="#231f20" stroke-width="0.5"/>
<line x1="265.40" y1="482.40" x2="265.40" y2="485.60" stroke="#231f20" stroke-width="0.9"/>
<text x="265.40" y="494.00" font-size="6.6" text-anchor="middle">0</text>
<line x1="289.40" y1="482.40" x2="289.40" y2="485.60" stroke="#231f20" stroke-width="0.9"/>
<text x="290.00" y="494.00" font-size="6.6" text-anchor="middle">10</text>
<line x1="313.40" y1="482.40" x2="313.40" y2="485.60" stroke="#231f20" stroke-width="0.9"/>
<text x="314.00" y="494.00" font-size="6.6" text-anchor="middle">20</text>
<line x1="337.40" y1="482.40" x2="337.40" y2="485.60" stroke="#231f20" stroke-width="0.9"/>
<text x="338.00" y="494.00" font-size="6.6" text-anchor="middle">30</text>
<line x1="361.40" y1="482.40" x2="361.40" y2="485.60" stroke="#231f20" stroke-width="0.9"/>
<text x="362.00" y="494.00" font-size="6.6" text-anchor="middle">40</text>
<line x1="385.40" y1="482.40" x2="385.40" y2="485.60" stroke="#231f20" stroke-width="0.9"/>
<text x="386.00" y="494.00" font-size="6.6" text-anchor="middle">50</text>
<text x="327.60" y="507.00" font-size="8.6" text-anchor="middle" textLength="119.00" lengthAdjust="spacingAndGlyphs">Days after MOLM-13 tumor injection</text>
<path d="M265.90 413.5H303.80" stroke="#c4c4c4" stroke-width="1.0" fill="none" stroke-linejoin="miter" shape-rendering="crispEdges"/>
<line x1="303.80" y1="413.00" x2="303.80" y2="482.40" stroke="#c8c8c8" stroke-width="1.5"/>
<path d="M289.40 413.0V436.0H308.60V459.4H315.80V482.4" stroke="#2aa5de" stroke-width="1.0" fill="none" stroke-linejoin="miter" shape-rendering="crispEdges"/>
<path d="M325.40 436.0H339.80V459.4H383.00V482.4" stroke="#c4123a" stroke-width="1.0" fill="none" stroke-linejoin="miter" shape-rendering="crispEdges"/>
<path d="M303.80 413.0H325.40V436.0H337.40V459.4H347.00V482.4" stroke="#3b4352" stroke-width="1.0" fill="none" stroke-linejoin="miter" shape-rendering="crispEdges"/>
<rect x="396.00" y="429.80" width="9.00" height="4.40" fill="#cbcbcb"/>
<text x="408.00" y="434.10" font-size="6.9" textLength="11.60" lengthAdjust="spacingAndGlyphs">PBS</text>
<rect x="396.00" y="439.40" width="9.00" height="4.40" fill="#475668"/>
<text x="408.00" y="443.70" font-size="6.9" textLength="20.60" lengthAdjust="spacingAndGlyphs">diABZI</text>
<rect x="396.00" y="448.40" width="9.00" height="4.40" fill="#2aa5de"/>
<text x="408.00" y="452.70" font-size="6.9" textLength="30.00" lengthAdjust="spacingAndGlyphs">AMG 673</text>
<rect x="396.00" y="457.80" width="9.00" height="4.40" fill="#c8102e"/>
<text x="408.00" y="462.10" font-size="6.9" textLength="60.00" lengthAdjust="spacingAndGlyphs">AMG 673 + diABZI</text>
<path d="M435 441H441.6V432H438.6" stroke="#231f20" stroke-width="1.1" fill="none"/>
<path d="M447 448.6H453.6V432H451" stroke="#231f20" stroke-width="1.1" fill="none"/>
<path d="M472 458.4H478.6V432H476" stroke="#231f20" stroke-width="1.1" fill="none"/>
<line x1="441.60" y1="436.50" x2="442.90" y2="436.50" stroke="#231f20" stroke-width="1.0"/>
<line x1="453.60" y1="440.30" x2="454.90" y2="440.30" stroke="#231f20" stroke-width="1.0"/>
<line x1="478.60" y1="445.20" x2="479.90" y2="445.20" stroke="#231f20" stroke-width="1.0"/>
<text x="445.00" y="440.00" font-size="6.6" text-anchor="middle">*</text>
<text x="457.20" y="448.40" font-size="6.6" text-anchor="middle">*</text>
<text x="482.00" y="439.40" font-size="6.6" text-anchor="middle">*</text>
<text x="482.00" y="457.80" font-size="6.6" text-anchor="middle">*</text>
<text x="457.00" y="438.40" font-size="6.9" textLength="13.60" lengthAdjust="spacingAndGlyphs">0.37</text>
<text x="482.40" y="447.60" font-size="6.9" textLength="13.60" lengthAdjust="spacingAndGlyphs">0.53</text>
<text x="223.40" y="537.20" font-size="11.8" font-weight="bold" textLength="9.60" lengthAdjust="spacingAndGlyphs" stroke="#231f20" stroke-width="0.35">G</text>
<text x="299.70" y="541.00" font-size="7.0" text-anchor="middle" textLength="68.60" lengthAdjust="spacingAndGlyphs">MOLM-13 BM burden</text>
<text x="243.80" y="607.50" font-size="8.6" text-anchor="middle" transform="rotate(-90 243.80 607.50)" textLength="75.00" lengthAdjust="spacingAndGlyphs">% CD33<tspan font-size="5.4" dy="-3">+</tspan><tspan dy="3"> of living cells</tspan></text>
<rect x="273.90" y="600.24" width="9.20" height="47.76" fill="#cbcbcb"/>
<rect x="288.70" y="618.23" width="9.20" height="29.77" fill="#475668"/>
<rect x="303.70" y="624.60" width="9.20" height="23.40" fill="#2aa5de"/>
<line x1="268.00" y1="565.80" x2="268.00" y2="648.60" stroke="#231f20" stroke-width="1.25"/>
<line x1="267.40" y1="648.00" x2="332.00" y2="648.00" stroke="#231f20" stroke-width="1.4"/>
<line x1="264.30" y1="648.00" x2="268.00" y2="648.00" stroke="#231f20" stroke-width="0.9"/>
<text x="261.00" y="650.40" font-size="6.8" text-anchor="end">0</text>
<line x1="264.30" y1="632.08" x2="268.00" y2="632.08" stroke="#231f20" stroke-width="0.9"/>
<text x="261.00" y="634.48" font-size="6.8" text-anchor="end">20</text>
<line x1="264.30" y1="616.16" x2="268.00" y2="616.16" stroke="#231f20" stroke-width="0.9"/>
<text x="261.00" y="618.56" font-size="6.8" text-anchor="end">40</text>
<line x1="264.30" y1="600.24" x2="268.00" y2="600.24" stroke="#231f20" stroke-width="0.9"/>
<text x="261.00" y="602.64" font-size="6.8" text-anchor="end">60</text>
<line x1="264.30" y1="584.32" x2="268.00" y2="584.32" stroke="#231f20" stroke-width="0.9"/>
<text x="261.00" y="586.72" font-size="6.8" text-anchor="end">80</text>
<line x1="264.30" y1="568.40" x2="268.00" y2="568.40" stroke="#231f20" stroke-width="0.9"/>
<text x="261.00" y="570.80" font-size="6.8" text-anchor="end">100</text>
<line x1="278.50" y1="648.00" x2="278.50" y2="651.20" stroke="#231f20" stroke-width="0.9"/>
<line x1="278.50" y1="590.00" x2="278.50" y2="609.40" stroke="#231f20" stroke-width="0.8"/>
<line x1="276.30" y1="590.00" x2="280.70" y2="590.00" stroke="#231f20" stroke-width="0.8"/>
<line x1="276.30" y1="609.40" x2="280.70" y2="609.40" stroke="#231f20" stroke-width="0.8"/>
<rect x="277.15" y="580.15" width="2.5" height="2.5" rx="0.55" fill="#1a1a1a"/>
<rect x="277.15" y="602.75" width="2.5" height="2.5" rx="0.55" fill="#1a1a1a"/>
<rect x="277.15" y="613.15" width="2.5" height="2.5" rx="0.55" fill="#1a1a1a"/>
<line x1="293.30" y1="648.00" x2="293.30" y2="651.20" stroke="#231f20" stroke-width="0.9"/>
<line x1="293.30" y1="602.40" x2="293.30" y2="633.00" stroke="#231f20" stroke-width="0.8"/>
<line x1="291.10" y1="602.40" x2="295.50" y2="602.40" stroke="#231f20" stroke-width="0.8"/>
<line x1="291.10" y1="633.00" x2="295.50" y2="633.00" stroke="#231f20" stroke-width="0.8"/>
<rect x="292.15" y="601.75" width="2.5" height="2.5" rx="0.55" fill="#1a1a1a"/>
<rect x="292.15" y="631.55" width="2.5" height="2.5" rx="0.55" fill="#1a1a1a"/>
<line x1="308.30" y1="648.00" x2="308.30" y2="651.20" stroke="#231f20" stroke-width="0.9"/>
<line x1="308.30" y1="615.60" x2="308.30" y2="632.40" stroke="#231f20" stroke-width="0.8"/>
<line x1="306.10" y1="615.60" x2="310.50" y2="615.60" stroke="#231f20" stroke-width="0.8"/>
<line x1="306.10" y1="632.40" x2="310.50" y2="632.40" stroke="#231f20" stroke-width="0.8"/>
<rect x="307.15" y="607.75" width="2.5" height="2.5" rx="0.55" fill="#1a1a1a"/>
<rect x="307.15" y="625.75" width="2.5" height="2.5" rx="0.55" fill="#1a1a1a"/>
<rect x="307.15" y="635.35" width="2.5" height="2.5" rx="0.55" fill="#1a1a1a"/>
<line x1="323.30" y1="648.00" x2="323.30" y2="651.20" stroke="#231f20" stroke-width="0.9"/>
<line x1="318.70" y1="647.50" x2="327.90" y2="647.50" stroke="#3a0a12" stroke-width="1.8"/>
<rect x="318.95" y="645.75" width="2.5" height="2.5" rx="0.55" fill="#4a0c16"/>
<rect x="322.15" y="644.95" width="2.5" height="2.5" rx="0.55" fill="#4a0c16"/>
<rect x="325.35" y="645.75" width="2.5" height="2.5" rx="0.55" fill="#4a0c16"/>
<path d="M278.00 566.00V560.40H324.40V562.40" stroke="#231f20" stroke-width="0.9" fill="none"/>
<line x1="293.20" y1="560.40" x2="293.20" y2="561.70" stroke="#231f20" stroke-width="0.9"/>
<line x1="308.40" y1="560.40" x2="308.40" y2="561.70" stroke="#231f20" stroke-width="0.9"/>
<path d="M293.20 577.00V574.60H324.40V580.60" stroke="#231f20" stroke-width="0.9" fill="none"/>
<line x1="308.40" y1="574.60" x2="308.40" y2="575.90" stroke="#231f20" stroke-width="0.9"/>
<text x="286.60" y="558.80" font-size="6.8" text-anchor="middle">ns</text>
<text x="301.60" y="558.80" font-size="6.8" text-anchor="middle">ns</text>
<text x="316.60" y="560.60" font-size="7.4" text-anchor="middle">*</text>
<text x="301.60" y="572.80" font-size="6.8" text-anchor="middle">ns</text>
<text x="316.60" y="572.80" font-size="6.8" text-anchor="middle">ns</text>
<text x="281.20" y="657.80" font-size="7.4" text-anchor="end" transform="rotate(-45 281.20 657.80)" textLength="13.00" lengthAdjust="spacingAndGlyphs">PBS</text>
<text x="296.20" y="657.80" font-size="7.4" text-anchor="end" transform="rotate(-45 296.20 657.80)" textLength="22.00" lengthAdjust="spacingAndGlyphs">diABZI</text>
<text x="311.20" y="657.80" font-size="7.4" text-anchor="end" transform="rotate(-45 311.20 657.80)" textLength="31.00" lengthAdjust="spacingAndGlyphs">AMG 673</text>
<text x="326.20" y="657.80" font-size="7.4" text-anchor="end" transform="rotate(-45 326.20 657.80)" textLength="61.00" lengthAdjust="spacingAndGlyphs">AMG 673 + diABZI</text>
<text x="19.00" y="534.60" font-size="6.6" textLength="12.00" lengthAdjust="spacingAndGlyphs">Day</text>
<text x="41.20" y="533.70" font-size="9.9" textLength="106.80" lengthAdjust="spacingAndGlyphs">Bioluminescence imaging</text>
<text x="27.90" y="551.00" font-size="7.0" text-anchor="middle">10</text>
<text x="27.90" y="567.87" font-size="7.0" text-anchor="middle">15</text>
<text x="27.90" y="584.74" font-size="7.0" text-anchor="middle">21</text>
<text x="27.90" y="601.61" font-size="7.0" text-anchor="middle">25</text>
<text x="27.90" y="618.48" font-size="7.0" text-anchor="middle">28</text>
<text x="27.90" y="635.35" font-size="7.0" text-anchor="middle">31</text>
<text x="27.90" y="652.22" font-size="7.0" text-anchor="middle">37</text>
<text x="27.90" y="669.09" font-size="7.0" text-anchor="middle">44</text>
<defs><linearGradient id="dk" x1="0" y1="0" x2="0" y2="1"><stop offset="0" stop-color="#222222"/><stop offset="0.22" stop-color="#353535"/><stop offset="0.5" stop-color="#505050"/><stop offset="0.78" stop-color="#555555"/><stop offset="1" stop-color="#484848"/></linearGradient><radialGradient id="gl" cx="0.8" cy="0.98" r="0.9"><stop offset="0" stop-color="#fff" stop-opacity="1"/><stop offset="0.22" stop-color="#eee" stop-opacity="0.8"/><stop offset="0.5" stop-color="#bbb" stop-opacity="0.35"/><stop offset="1" stop-color="#888" stop-opacity="0"/></radialGradient><radialGradient id="gll" cx="0.2" cy="0.98" r="0.9"><stop offset="0" stop-color="#fff" stop-opacity="1"/><stop offset="0.22" stop-color="#eee" stop-opacity="0.8"/><stop offset="0.5" stop-color="#bbb" stop-opacity="0.35"/><stop offset="1" stop-color="#888" stop-opacity="0"/></radialGradient><radialGradient id="g2" cx="0.5" cy="0.5" r="0.5"><stop offset="0" stop-color="#fff" stop-opacity="1"/><stop offset="0.3" stop-color="#f4f4f4" stop-opacity="0.9"/><stop offset="0.6" stop-color="#bbb" stop-opacity="0.45"/><stop offset="1" stop-color="#777" stop-opacity="0"/></radialGradient><linearGradient id="cb" x1="0" y1="0" x2="0" y2="1"><stop offset="0" stop-color="#c23a1e"/><stop offset="0.08" stop-color="#d4571c"/><stop offset="0.18" stop-color="#e58a1e"/><stop offset="0.27" stop-color="#e8cf2c"/><stop offset="0.34" stop-color="#9cb42c"/><stop offset="0.42" stop-color="#2d9136"/><stop offset="0.55" stop-color="#148552"/><stop offset="0.66" stop-color="#1593a6"/><stop offset="0.78" stop-color="#1c62b4"/><stop offset="0.90" stop-color="#232f96"/><stop offset="1" stop-color="#2a1470"/></linearGradient><filter id="bl" x="-5%" y="-5%" width="110%" height="110%"><feGaussianBlur stdDeviation="0.4"/></filter><clipPath id="bclip"><rect x="34.7" y="539.7" width="25.0" height="134.32"/><rect x="66.2" y="539.7" width="25.0" height="134.32"/><rect x="97.6" y="539.7" width="25.0" height="134.32"/><rect x="129.4" y="539.7" width="25.0" height="134.32"/></clipPath></defs>
<g clip-path="url(#bclip)">
<rect x="34.70" y="539.70" width="25.00" height="16.89" fill="url(#dk)"/>
<rect x="42.73" y="539.70" width="0.60" height="16.79" fill="#2a2a2a" opacity="0.5"/>
<rect x="51.07" y="539.70" width="0.60" height="16.79" fill="#2a2a2a" opacity="0.5"/>
<rect x="34.70" y="556.49" width="25.00" height="16.89" fill="url(#dk)"/>
<rect x="42.73" y="556.49" width="0.60" height="16.79" fill="#2a2a2a" opacity="0.5"/>
<rect x="51.07" y="556.49" width="0.60" height="16.79" fill="#2a2a2a" opacity="0.5"/>
<rect x="34.70" y="573.28" width="25.00" height="16.89" fill="url(#dk)"/>
<rect x="42.73" y="573.28" width="0.60" height="16.79" fill="#2a2a2a" opacity="0.5"/>
<rect x="51.07" y="573.28" width="0.60" height="16.79" fill="#2a2a2a" opacity="0.5"/>
<ellipse cx="56.70" cy="589.40" rx="9.00" ry="7.72" fill="url(#g2)"/>
<rect x="34.70" y="590.07" width="25.00" height="16.89" fill="url(#dk)"/>
<rect x="42.73" y="590.07" width="0.60" height="16.79" fill="#2a2a2a" opacity="0.5"/>
<rect x="51.07" y="590.07" width="0.60" height="16.79" fill="#2a2a2a" opacity="0.5"/>
<ellipse cx="56.70" cy="606.19" rx="9.00" ry="7.72" fill="url(#g2)"/>
<rect x="34.70" y="606.86" width="25.00" height="16.89" fill="url(#dk)"/>
<rect x="42.73" y="606.86" width="0.60" height="16.79" fill="#2a2a2a" opacity="0.5"/>
<rect x="51.07" y="606.86" width="0.60" height="16.79" fill="#2a2a2a" opacity="0.5"/>
<ellipse cx="56.70" cy="622.98" rx="9.00" ry="7.72" fill="url(#g2)"/>
<rect x="34.70" y="623.65" width="25.00" height="16.89" fill="url(#dk)"/>
<rect x="42.73" y="623.65" width="0.60" height="16.79" fill="#2a2a2a" opacity="0.5"/>
<rect x="51.07" y="623.65" width="0.60" height="16.79" fill="#2a2a2a" opacity="0.5"/>
<ellipse cx="56.70" cy="639.77" rx="9.00" ry="7.72" fill="url(#g2)"/>
<rect x="34.70" y="640.44" width="25.00" height="16.89" fill="url(#dk)"/>
<rect x="42.73" y="640.44" width="0.60" height="16.79" fill="#2a2a2a" opacity="0.5"/>
<rect x="51.07" y="640.44" width="0.60" height="16.79" fill="#2a2a2a" opacity="0.5"/>
<ellipse cx="56.70" cy="656.56" rx="9.00" ry="7.72" fill="url(#g2)"/>
<rect x="34.70" y="657.23" width="25.00" height="16.89" fill="url(#dk)"/>
<rect x="42.73" y="657.23" width="0.60" height="16.79" fill="#2a2a2a" opacity="0.5"/>
<rect x="51.07" y="657.23" width="0.60" height="16.79" fill="#2a2a2a" opacity="0.5"/>
<ellipse cx="56.70" cy="673.35" rx="9.00" ry="7.72" fill="url(#g2)"/>
<rect x="66.20" y="539.70" width="25.00" height="16.89" fill="url(#dk)"/>
<rect x="74.23" y="539.70" width="0.60" height="16.79" fill="#2a2a2a" opacity="0.5"/>
<rect x="82.57" y="539.70" width="0.60" height="16.79" fill="#2a2a2a" opacity="0.5"/>
<rect x="66.20" y="556.49" width="25.00" height="16.89" fill="url(#dk)"/>
<rect x="74.23" y="556.49" width="0.60" height="16.79" fill="#2a2a2a" opacity="0.5"/>
<rect x="82.57" y="556.49" width="0.60" height="16.79" fill="#2a2a2a" opacity="0.5"/>
<rect x="66.20" y="573.28" width="25.00" height="16.89" fill="url(#dk)"/>
<rect x="74.23" y="573.28" width="0.60" height="16.79" fill="#2a2a2a" opacity="0.5"/>
<rect x="82.57" y="573.28" width="0.60" height="16.79" fill="#2a2a2a" opacity="0.5"/>
<ellipse cx="68.70" cy="589.40" rx="7.50" ry="7.05" fill="url(#g2)"/>
<rect x="66.20" y="590.07" width="25.00" height="16.89" fill="url(#dk)"/>
<rect x="74.23" y="590.07" width="0.60" height="16.79" fill="#2a2a2a" opacity="0.5"/>
<rect x="82.57" y="590.07" width="0.60" height="16.79" fill="#2a2a2a" opacity="0.5"/>
<ellipse cx="88.20" cy="606.19" rx="9.00" ry="7.72" fill="url(#g2)"/>
<rect x="66.20" y="606.86" width="25.00" height="16.89" fill="url(#dk)"/>
<rect x="74.23" y="606.86" width="0.60" height="16.79" fill="#2a2a2a" opacity="0.5"/>
<rect x="82.57" y="606.86" width="0.60" height="16.79" fill="#2a2a2a" opacity="0.5"/>
<ellipse cx="88.20" cy="622.98" rx="9.00" ry="7.72" fill="url(#g2)"/>
<rect x="66.20" y="623.65" width="25.00" height="16.89" fill="url(#dk)"/>
<rect x="74.23" y="623.65" width="0.60" height="16.79" fill="#2a2a2a" opacity="0.5"/>
<rect x="82.57" y="623.65" width="0.60" height="16.79" fill="#2a2a2a" opacity="0.5"/>
<ellipse cx="88.20" cy="639.77" rx="9.00" ry="7.72" fill="url(#g2)"/>
<rect x="66.20" y="640.44" width="25.00" height="16.89" fill="url(#dk)"/>
<rect x="74.23" y="640.44" width="0.60" height="16.79" fill="#2a2a2a" opacity="0.5"/>
<rect x="82.57" y="640.44" width="0.60" height="16.79" fill="#2a2a2a" opacity="0.5"/>
<ellipse cx="88.20" cy="656.56" rx="9.00" ry="7.72" fill="url(#g2)"/>
<rect x="66.20" y="657.23" width="25.00" height="16.89" fill="url(#dk)"/>
<rect x="74.23" y="657.23" width="0.60" height="16.79" fill="#2a2a2a" opacity="0.5"/>
<rect x="82.57" y="657.23" width="0.60" height="16.79" fill="#2a2a2a" opacity="0.5"/>
<ellipse cx="88.20" cy="673.35" rx="9.00" ry="7.72" fill="url(#g2)"/>
<rect x="97.60" y="539.70" width="25.00" height="16.89" fill="url(#dk)"/>
<rect x="105.63" y="539.70" width="0.60" height="16.79" fill="#2a2a2a" opacity="0.5"/>
<rect x="113.97" y="539.70" width="0.60" height="16.79" fill="#2a2a2a" opacity="0.5"/>
<rect x="97.60" y="556.49" width="25.00" height="16.89" fill="url(#dk)"/>
<rect x="105.63" y="556.49" width="0.60" height="16.79" fill="#2a2a2a" opacity="0.5"/>
<rect x="113.97" y="556.49" width="0.60" height="16.79" fill="#2a2a2a" opacity="0.5"/>
<rect x="97.60" y="573.28" width="25.00" height="16.89" fill="url(#dk)"/>
<rect x="105.63" y="573.28" width="0.60" height="16.79" fill="#2a2a2a" opacity="0.5"/>
<rect x="113.97" y="573.28" width="0.60" height="16.79" fill="#2a2a2a" opacity="0.5"/>
<rect x="97.60" y="590.07" width="25.00" height="16.89" fill="url(#dk)"/>
<rect x="105.63" y="590.07" width="0.60" height="16.79" fill="#2a2a2a" opacity="0.5"/>
<rect x="113.97" y="590.07" width="0.60" height="16.79" fill="#2a2a2a" opacity="0.5"/>
<rect x="97.60" y="606.86" width="25.00" height="16.89" fill="url(#dk)"/>
<rect x="105.63" y="606.86" width="0.60" height="16.79" fill="#2a2a2a" opacity="0.5"/>
<rect x="113.97" y="606.86" width="0.60" height="16.79" fill="#2a2a2a" opacity="0.5"/>
<rect x="97.60" y="623.65" width="25.00" height="16.89" fill="url(#dk)"/>
<rect x="105.63" y="623.65" width="0.60" height="16.79" fill="#2a2a2a" opacity="0.5"/>
<rect x="113.97" y="623.65" width="0.60" height="16.79" fill="#2a2a2a" opacity="0.5"/>
<rect x="97.60" y="640.44" width="25.00" height="16.89" fill="url(#dk)"/>
<rect x="105.63" y="640.44" width="0.60" height="16.79" fill="#2a2a2a" opacity="0.5"/>
<rect x="113.97" y="640.44" width="0.60" height="16.79" fill="#2a2a2a" opacity="0.5"/>
<ellipse cx="119.60" cy="656.56" rx="9.00" ry="7.72" fill="url(#g2)"/>
<rect x="97.60" y="657.23" width="25.00" height="16.89" fill="url(#dk)"/>
<rect x="105.63" y="657.23" width="0.60" height="16.79" fill="#2a2a2a" opacity="0.5"/>
<rect x="113.97" y="657.23" width="0.60" height="16.79" fill="#2a2a2a" opacity="0.5"/>
<ellipse cx="119.60" cy="673.35" rx="9.00" ry="7.72" fill="url(#g2)"/>
<rect x="129.40" y="539.70" width="25.00" height="16.89" fill="url(#dk)"/>
<rect x="137.43" y="539.70" width="0.60" height="16.79" fill="#2a2a2a" opacity="0.5"/>
<rect x="145.77" y="539.70" width="0.60" height="16.79" fill="#2a2a2a" opacity="0.5"/>
<rect x="129.40" y="556.49" width="25.00" height="16.89" fill="url(#dk)"/>
<rect x="137.43" y="556.49" width="0.60" height="16.79" fill="#2a2a2a" opacity="0.5"/>
<rect x="145.77" y="556.49" width="0.60" height="16.79" fill="#2a2a2a" opacity="0.5"/>
<rect x="129.40" y="573.28" width="25.00" height="16.89" fill="url(#dk)"/>
<rect x="137.43" y="573.28" width="0.60" height="16.79" fill="#2a2a2a" opacity="0.5"/>
<rect x="145.77" y="573.28" width="0.60" height="16.79" fill="#2a2a2a" opacity="0.5"/>
<rect x="129.40" y="590.07" width="25.00" height="16.89" fill="url(#dk)"/>
<rect x="137.43" y="590.07" width="0.60" height="16.79" fill="#2a2a2a" opacity="0.5"/>
<rect x="145.77" y="590.07" width="0.60" height="16.79" fill="#2a2a2a" opacity="0.5"/>
<rect x="129.40" y="606.86" width="25.00" height="16.89" fill="url(#dk)"/>
<rect x="137.43" y="606.86" width="0.60" height="16.79" fill="#2a2a2a" opacity="0.5"/>
<rect x="145.77" y="606.86" width="0.60" height="16.79" fill="#2a2a2a" opacity="0.5"/>
<rect x="129.40" y="623.65" width="25.00" height="16.89" fill="url(#dk)"/>
<rect x="137.43" y="623.65" width="0.60" height="16.79" fill="#2a2a2a" opacity="0.5"/>
<rect x="145.77" y="623.65" width="0.60" height="16.79" fill="#2a2a2a" opacity="0.5"/>
<rect x="129.40" y="640.44" width="25.00" height="16.89" fill="url(#dk)"/>
<rect x="137.43" y="640.44" width="0.60" height="16.79" fill="#2a2a2a" opacity="0.5"/>
<rect x="145.77" y="640.44" width="0.60" height="16.79" fill="#2a2a2a" opacity="0.5"/>
<rect x="129.40" y="657.23" width="25.00" height="16.89" fill="url(#dk)"/>
<rect x="137.43" y="657.23" width="0.60" height="16.79" fill="#2a2a2a" opacity="0.5"/>
<rect x="145.77" y="657.23" width="0.60" height="16.79" fill="#2a2a2a" opacity="0.5"/>
<g filter="url(#bl)">
<g clip-path="url(#c000)">
<clipPath id="c000"><rect x="34.70" y="539.70" width="8.33" height="16.79"/></clipPath>
<rect x="34.70" y="540.30" width="8.33" height="16.19" fill="#1d1450" opacity="0.85"/>
<ellipse cx="38.87" cy="542.55" rx="2.25" ry="2.52" fill="#4930a6"/>
<ellipse cx="38.87" cy="549.44" rx="3.75" ry="6.21" fill="#4930a6"/>
<ellipse cx="38.87" cy="541.88" rx="1.67" ry="1.01" fill="#9a8cd4"/>
<ellipse cx="38.87" cy="545.74" rx="2.17" ry="2.01" fill="#5a40b8"/>
<ellipse cx="38.45" cy="549.10" rx="1.83" ry="1.51" fill="#b3a8e0"/>
<ellipse cx="39.03" cy="550.11" rx="1.42" ry="1.26" fill="#ffffff"/>
<ellipse cx="38.87" cy="554.81" rx="2.67" ry="0.84" fill="#7f70c4" opacity="0.8"/>
</g>
<g clip-path="url(#c001)">
<clipPath id="c001"><rect x="43.03" y="539.70" width="8.33" height="16.79"/></clipPath>
<rect x="43.03" y="540.30" width="8.33" height="16.19" fill="#1d1450" opacity="0.85"/>
<ellipse cx="47.20" cy="542.55" rx="2.25" ry="2.52" fill="#4930a6"/>
<ellipse cx="47.20" cy="549.44" rx="3.75" ry="6.21" fill="#4930a6"/>
<ellipse cx="47.20" cy="541.88" rx="1.67" ry="1.01" fill="#9a8cd4"/>
<ellipse cx="47.20" cy="545.74" rx="2.17" ry="2.01" fill="#5a40b8"/>
<ellipse cx="46.78" cy="549.10" rx="1.83" ry="1.51" fill="#b3a8e0"/>
<ellipse cx="47.37" cy="550.11" rx="1.42" ry="1.26" fill="#ffffff"/>
<ellipse cx="47.20" cy="554.81" rx="2.67" ry="0.84" fill="#7f70c4" opacity="0.8"/>
</g>
<g clip-path="url(#c002)">
<clipPath id="c002"><rect x="51.37" y="539.70" width="8.33" height="16.79"/></clipPath>
<rect x="51.37" y="540.30" width="8.33" height="16.19" fill="#1d1450" opacity="0.85"/>
<ellipse cx="55.53" cy="542.55" rx="2.25" ry="2.52" fill="#4930a6"/>
<ellipse cx="55.53" cy="549.44" rx="3.75" ry="6.21" fill="#4930a6"/>
<ellipse cx="55.53" cy="541.88" rx="1.67" ry="1.01" fill="#9a8cd4"/>
<ellipse cx="55.53" cy="545.74" rx="2.17" ry="2.01" fill="#5a40b8"/>
<ellipse cx="55.12" cy="549.10" rx="1.83" ry="1.51" fill="#b3a8e0"/>
<ellipse cx="55.70" cy="550.11" rx="1.42" ry="1.26" fill="#ffffff"/>
<ellipse cx="55.53" cy="554.81" rx="2.67" ry="0.84" fill="#7f70c4" opacity="0.8"/>
</g>
<g clip-path="url(#c010)">
<clipPath id="c010"><rect x="34.70" y="556.49" width="8.33" height="16.79"/></clipPath>
<rect x="34.70" y="557.09" width="8.33" height="16.19" fill="#2a36b8" opacity="0.95"/>
<ellipse cx="38.87" cy="564.88" rx="4.67" ry="7.72" fill="#25b4cc"/>
<ellipse cx="38.87" cy="565.22" rx="4.33" ry="7.05" fill="#46c04a"/>
<ellipse cx="38.70" cy="565.56" rx="3.92" ry="6.46" fill="#f68c1e"/>
<ellipse cx="38.53" cy="565.72" rx="3.58" ry="5.88" fill="#f23d10"/>
</g>
<g clip-path="url(#c011)">
<clipPath id="c011"><rect x="43.03" y="556.49" width="8.33" height="16.79"/></clipPath>
<rect x="43.03" y="557.09" width="8.33" height="16.19" fill="#2a36b8" opacity="0.95"/>
<ellipse cx="47.20" cy="564.55" rx="4.67" ry="7.72" fill="#25b4cc"/>
<ellipse cx="46.78" cy="562.37" rx="3.33" ry="5.04" fill="#46c04a"/>
<ellipse cx="46.53" cy="559.85" rx="1.33" ry="1.34" fill="#e6d935"/>
<ellipse cx="46.78" cy="566.23" rx="3.75" ry="5.37" fill="#f68c1e"/>
<ellipse cx="46.53" cy="566.23" rx="3.33" ry="4.70" fill="#f23d10"/>
</g>
<g clip-path="url(#c012)">
<clipPath id="c012"><rect x="51.37" y="556.49" width="8.33" height="16.79"/></clipPath>
<rect x="51.37" y="557.09" width="8.33" height="16.19" fill="#2a36b8" opacity="0.95"/>
<ellipse cx="55.95" cy="563.21" rx="3.67" ry="5.71" fill="#25b4cc"/>
<ellipse cx="55.12" cy="559.85" rx="2.50" ry="1.68" fill="#46c04a"/>
<ellipse cx="57.20" cy="564.05" rx="1.67" ry="2.01" fill="#1d8fc0"/>
<ellipse cx="54.28" cy="567.57" rx="2.83" ry="2.69" fill="#f68c1e"/>
<ellipse cx="53.87" cy="567.57" rx="2.00" ry="1.85" fill="#f23d10"/>
<ellipse cx="56.37" cy="569.92" rx="2.50" ry="1.68" fill="#f68c1e"/>
</g>
<g clip-path="url(#c020)">
<clipPath id="c020"><rect x="34.70" y="573.28" width="8.33" height="16.79"/></clipPath>
<ellipse cx="38.87" cy="582.51" rx="1.83" ry="7.56" fill="#6a6a6a" opacity="0.35"/>
</g>
<g clip-path="url(#c021)">
<clipPath id="c021"><rect x="43.03" y="573.28" width="8.33" height="16.79"/></clipPath>
<ellipse cx="47.20" cy="582.51" rx="1.83" ry="7.56" fill="#6a6a6a" opacity="0.35"/>
</g>
<g clip-path="url(#c022)">
<clipPath id="c022"><rect x="51.37" y="573.28" width="8.33" height="16.79"/></clipPath>
<ellipse cx="55.53" cy="582.51" rx="1.83" ry="7.56" fill="#6a6a6a" opacity="0.3"/>
</g>
<g clip-path="url(#c030)">
<clipPath id="c030"><rect x="34.70" y="590.07" width="8.33" height="16.79"/></clipPath>
<ellipse cx="38.87" cy="599.30" rx="1.83" ry="7.56" fill="#6a6a6a" opacity="0.35"/>
</g>
<g clip-path="url(#c031)">
<clipPath id="c031"><rect x="43.03" y="590.07" width="8.33" height="16.79"/></clipPath>
<ellipse cx="47.20" cy="599.30" rx="1.83" ry="7.56" fill="#6a6a6a" opacity="0.35"/>
</g>
<g clip-path="url(#c032)">
<clipPath id="c032"><rect x="51.37" y="590.07" width="8.33" height="16.79"/></clipPath>
<ellipse cx="55.53" cy="599.30" rx="1.83" ry="7.56" fill="#6a6a6a" opacity="0.3"/>
</g>
<g clip-path="url(#c040)">
<clipPath id="c040"><rect x="34.70" y="606.86" width="8.33" height="16.79"/></clipPath>
<ellipse cx="38.87" cy="616.09" rx="1.83" ry="7.56" fill="#6a6a6a" opacity="0.35"/>
</g>
<g clip-path="url(#c041)">
<clipPath id="c041"><rect x="43.03" y="606.86" width="8.33" height="16.79"/></clipPath>
<ellipse cx="47.20" cy="616.09" rx="1.83" ry="7.56" fill="#6a6a6a" opacity="0.35"/>
</g>
<g clip-path="url(#c042)">
<clipPath id="c042"><rect x="51.37" y="606.86" width="8.33" height="16.79"/></clipPath>
<ellipse cx="55.53" cy="616.09" rx="1.83" ry="7.56" fill="#6a6a6a" opacity="0.3"/>
</g>
<g clip-path="url(#c050)">
<clipPath id="c050"><rect x="34.70" y="623.65" width="8.33" height="16.79"/></clipPath>
<ellipse cx="38.87" cy="632.88" rx="1.83" ry="7.56" fill="#6a6a6a" opacity="0.35"/>
</g>
<g clip-path="url(#c051)">
<clipPath id="c051"><rect x="43.03" y="623.65" width="8.33" height="16.79"/></clipPath>
<ellipse cx="47.20" cy="632.88" rx="1.83" ry="7.56" fill="#6a6a6a" opacity="0.35"/>
</g>
<g clip-path="url(#c052)">
<clipPath id="c052"><rect x="51.37" y="623.65" width="8.33" height="16.79"/></clipPath>
<ellipse cx="55.53" cy="632.88" rx="1.83" ry="7.56" fill="#6a6a6a" opacity="0.3"/>
</g>
<g clip-path="url(#c060)">
<clipPath id="c060"><rect x="34.70" y="640.44" width="8.33" height="16.79"/></clipPath>
<ellipse cx="38.87" cy="649.67" rx="1.83" ry="7.56" fill="#6a6a6a" opacity="0.35"/>
</g>
<g clip-path="url(#c061)">
<clipPath id="c061"><rect x="43.03" y="640.44" width="8.33" height="16.79"/></clipPath>
<ellipse cx="47.20" cy="649.67" rx="1.83" ry="7.56" fill="#6a6a6a" opacity="0.35"/>
</g>
<g clip-path="url(#c062)">
<clipPath id="c062"><rect x="51.37" y="640.44" width="8.33" height="16.79"/></clipPath>
<ellipse cx="55.53" cy="649.67" rx="1.83" ry="7.56" fill="#6a6a6a" opacity="0.3"/>
</g>
<g clip-path="url(#c070)">
<clipPath id="c070"><rect x="34.70" y="657.23" width="8.33" height="16.79"/></clipPath>
<ellipse cx="38.87" cy="666.46" rx="1.83" ry="7.56" fill="#6a6a6a" opacity="0.35"/>
</g>
<g clip-path="url(#c071)">
<clipPath id="c071"><rect x="43.03" y="657.23" width="8.33" height="16.79"/></clipPath>
<ellipse cx="47.20" cy="666.46" rx="1.83" ry="7.56" fill="#6a6a6a" opacity="0.35"/>
</g>
<g clip-path="url(#c072)">
<clipPath id="c072"><rect x="51.37" y="657.23" width="8.33" height="16.79"/></clipPath>
<ellipse cx="55.53" cy="666.46" rx="1.83" ry="7.56" fill="#6a6a6a" opacity="0.3"/>
</g>
<g clip-path="url(#c100)">
<clipPath id="c100"><rect x="66.20" y="539.70" width="8.33" height="16.79"/></clipPath>
<rect x="66.20" y="540.30" width="8.33" height="16.19" fill="#1d1450" opacity="0.85"/>
<ellipse cx="70.37" cy="542.55" rx="2.25" ry="2.52" fill="#4930a6"/>
<ellipse cx="70.37" cy="549.44" rx="3.75" ry="6.21" fill="#4930a6"/>
<ellipse cx="70.37" cy="541.88" rx="1.67" ry="1.01" fill="#9a8cd4"/>
<ellipse cx="70.37" cy="545.74" rx="2.17" ry="2.01" fill="#5a40b8"/>
<ellipse cx="69.95" cy="549.10" rx="1.83" ry="1.51" fill="#b3a8e0"/>
<ellipse cx="70.53" cy="550.11" rx="1.42" ry="1.26" fill="#ffffff"/>
<ellipse cx="70.37" cy="554.81" rx="2.67" ry="0.84" fill="#7f70c4" opacity="0.8"/>
</g>
<g clip-path="url(#c101)">
<clipPath id="c101"><rect x="74.53" y="539.70" width="8.33" height="16.79"/></clipPath>
<rect x="74.53" y="540.30" width="8.33" height="16.19" fill="#1d1450" opacity="0.85"/>
<ellipse cx="78.70" cy="542.55" rx="2.25" ry="2.52" fill="#4930a6"/>
<ellipse cx="78.70" cy="549.44" rx="3.75" ry="6.21" fill="#4930a6"/>
<ellipse cx="78.70" cy="541.88" rx="1.67" ry="1.01" fill="#9a8cd4"/>
<ellipse cx="78.70" cy="545.74" rx="2.17" ry="2.01" fill="#5a40b8"/>
<ellipse cx="78.28" cy="549.10" rx="1.83" ry="1.51" fill="#b3a8e0"/>
<ellipse cx="78.87" cy="550.11" rx="1.42" ry="1.26" fill="#ffffff"/>
<ellipse cx="78.70" cy="554.81" rx="2.67" ry="0.84" fill="#7f70c4" opacity="0.8"/>
</g>
<g clip-path="url(#c102)">
<clipPath id="c102"><rect x="82.87" y="539.70" width="8.33" height="16.79"/></clipPath>
<rect x="82.87" y="540.30" width="8.33" height="16.19" fill="#1d1450" opacity="0.85"/>
<ellipse cx="87.03" cy="542.55" rx="2.25" ry="2.52" fill="#4930a6"/>
<ellipse cx="87.03" cy="549.44" rx="3.75" ry="6.21" fill="#4930a6"/>
<ellipse cx="87.03" cy="541.88" rx="1.67" ry="1.01" fill="#9a8cd4"/>
<ellipse cx="87.03" cy="545.74" rx="2.17" ry="2.01" fill="#5a40b8"/>
<ellipse cx="86.62" cy="549.10" rx="1.83" ry="1.51" fill="#b3a8e0"/>
<ellipse cx="87.20" cy="550.11" rx="1.42" ry="1.26" fill="#ffffff"/>
<ellipse cx="87.03" cy="554.81" rx="2.67" ry="0.84" fill="#7f70c4" opacity="0.8"/>
</g>
<g clip-path="url(#c110)">
<clipPath id="c110"><rect x="66.20" y="556.49" width="8.33" height="16.79"/></clipPath>
<rect x="66.20" y="557.09" width="8.33" height="16.19" fill="#3a2a9c" opacity="0.9"/>
<ellipse cx="70.37" cy="563.21" rx="3.50" ry="5.04" fill="#2b62d4"/>
<ellipse cx="71.20" cy="561.86" rx="1.83" ry="2.35" fill="#25b4cc"/>
<ellipse cx="69.95" cy="566.56" rx="2.50" ry="2.01" fill="#46c04a"/>
<ellipse cx="69.37" cy="569.59" rx="2.83" ry="2.18" fill="#f68c1e"/>
<ellipse cx="68.95" cy="570.26" rx="1.83" ry="1.34" fill="#f23d10"/>
</g>
<g clip-path="url(#c111)">
<clipPath id="c111"><rect x="74.53" y="556.49" width="8.33" height="16.79"/></clipPath>
<rect x="74.53" y="557.09" width="8.33" height="16.19" fill="#4a3a70" opacity="0.3"/>
</g>
<g clip-path="url(#c112)">
<clipPath id="c112"><rect x="82.87" y="556.49" width="8.33" height="16.79"/></clipPath>
<rect x="82.87" y="557.09" width="8.33" height="16.19" fill="#3a2a9c" opacity="0.9"/>
<ellipse cx="87.03" cy="562.03" rx="3.67" ry="4.37" fill="#2b62d4"/>
<ellipse cx="86.20" cy="559.85" rx="1.67" ry="1.68" fill="#4a38b0"/>
<ellipse cx="87.03" cy="568.24" rx="3.83" ry="3.36" fill="#46c04a"/>
<ellipse cx="87.03" cy="568.75" rx="3.00" ry="2.35" fill="#e6d935"/>
<ellipse cx="87.03" cy="569.92" rx="2.83" ry="2.01" fill="#f68c1e"/>
<ellipse cx="87.70" cy="571.27" rx="1.83" ry="1.34" fill="#f23d10"/>
</g>
<g clip-path="url(#c120)">
<clipPath id="c120"><rect x="66.20" y="573.28" width="8.33" height="16.79"/></clipPath>
<ellipse cx="70.37" cy="582.51" rx="1.83" ry="7.56" fill="#6a6a6a" opacity="0.3"/>
</g>
<g clip-path="url(#c121)">
<clipPath id="c121"><rect x="74.53" y="573.28" width="8.33" height="16.79"/></clipPath>
<ellipse cx="78.70" cy="582.51" rx="1.83" ry="7.56" fill="#6a6a6a" opacity="0.35"/>
</g>
<g clip-path="url(#c122)">
<clipPath id="c122"><rect x="82.87" y="573.28" width="8.33" height="16.79"/></clipPath>
<rect x="82.87" y="573.88" width="8.33" height="16.19" fill="#1d9ab8" opacity="0.9"/>
<ellipse cx="87.03" cy="576.97" rx="3.50" ry="3.36" fill="#25b4cc"/>
<ellipse cx="87.03" cy="583.86" rx="4.42" ry="5.71" fill="#46c04a"/>
<ellipse cx="87.03" cy="584.03" rx="4.08" ry="5.04" fill="#f68c1e"/>
<ellipse cx="87.03" cy="584.19" rx="3.67" ry="4.37" fill="#f23d10"/>
</g>
<g clip-path="url(#c130)">
<clipPath id="c130"><rect x="66.20" y="590.07" width="8.33" height="16.79"/></clipPath>
<ellipse cx="70.37" cy="599.30" rx="1.83" ry="7.56" fill="#6a6a6a" opacity="0.35"/>
</g>
<g clip-path="url(#c131)">
<clipPath id="c131"><rect x="74.53" y="590.07" width="8.33" height="16.79"/></clipPath>
<ellipse cx="78.70" cy="599.30" rx="1.83" ry="7.56" fill="#6a6a6a" opacity="0.35"/>
</g>
<g clip-path="url(#c132)">
<clipPath id="c132"><rect x="82.87" y="590.07" width="8.33" height="16.79"/></clipPath>
<ellipse cx="87.03" cy="599.30" rx="1.83" ry="7.56" fill="#6a6a6a" opacity="0.3"/>
</g>
<g clip-path="url(#c140)">
<clipPath id="c140"><rect x="66.20" y="606.86" width="8.33" height="16.79"/></clipPath>
<ellipse cx="70.37" cy="616.09" rx="1.83" ry="7.56" fill="#6a6a6a" opacity="0.35"/>
</g>
<g clip-path="url(#c141)">
<clipPath id="c141"><rect x="74.53" y="606.86" width="8.33" height="16.79"/></clipPath>
<ellipse cx="78.70" cy="616.09" rx="1.83" ry="7.56" fill="#6a6a6a" opacity="0.35"/>
</g>
<g clip-path="url(#c142)">
<clipPath id="c142"><rect x="82.87" y="606.86" width="8.33" height="16.79"/></clipPath>
<ellipse cx="87.03" cy="616.09" rx="1.83" ry="7.56" fill="#6a6a6a" opacity="0.3"/>
</g>
<g clip-path="url(#c150)">
<clipPath id="c150"><rect x="66.20" y="623.65" width="8.33" height="16.79"/></clipPath>
<ellipse cx="70.37" cy="632.88" rx="1.83" ry="7.56" fill="#6a6a6a" opacity="0.35"/>
</g>
<g clip-path="url(#c151)">
<clipPath id="c151"><rect x="74.53" y="623.65" width="8.33" height="16.79"/></clipPath>
<ellipse cx="78.70" cy="632.88" rx="1.83" ry="7.56" fill="#6a6a6a" opacity="0.35"/>
</g>
<g clip-path="url(#c152)">
<clipPath id="c152"><rect x="82.87" y="623.65" width="8.33" height="16.79"/></clipPath>
<ellipse cx="87.03" cy="632.88" rx="1.83" ry="7.56" fill="#6a6a6a" opacity="0.3"/>
</g>
<g clip-path="url(#c160)">
<clipPath id="c160"><rect x="66.20" y="640.44" width="8.33" height="16.79"/></clipPath>
<ellipse cx="70.37" cy="649.67" rx="1.83" ry="7.56" fill="#6a6a6a" opacity="0.35"/>
</g>
<g clip-path="url(#c161)">
<clipPath id="c161"><rect x="74.53" y="640.44" width="8.33" height="16.79"/></clipPath>
<ellipse cx="78.70" cy="649.67" rx="1.83" ry="7.56" fill="#6a6a6a" opacity="0.35"/>
</g>
<g clip-path="url(#c162)">
<clipPath id="c162"><rect x="82.87" y="640.44" width="8.33" height="16.79"/></clipPath>
<ellipse cx="87.03" cy="649.67" rx="1.83" ry="7.56" fill="#6a6a6a" opacity="0.3"/>
</g>
<g clip-path="url(#c170)">
<clipPath id="c170"><rect x="66.20" y="657.23" width="8.33" height="16.79"/></clipPath>
<ellipse cx="70.37" cy="666.46" rx="1.83" ry="7.56" fill="#6a6a6a" opacity="0.35"/>
</g>
<g clip-path="url(#c171)">
<clipPath id="c171"><rect x="74.53" y="657.23" width="8.33" height="16.79"/></clipPath>
<ellipse cx="78.70" cy="666.46" rx="1.83" ry="7.56" fill="#6a6a6a" opacity="0.35"/>
</g>
<g clip-path="url(#c172)">
<clipPath id="c172"><rect x="82.87" y="657.23" width="8.33" height="16.79"/></clipPath>
<ellipse cx="87.03" cy="666.46" rx="1.83" ry="7.56" fill="#6a6a6a" opacity="0.3"/>
</g>
<g clip-path="url(#c200)">
<clipPath id="c200"><rect x="97.60" y="539.70" width="8.33" height="16.79"/></clipPath>
<ellipse cx="101.77" cy="542.55" rx="2.25" ry="2.52" fill="#c9c6d6"/>
<ellipse cx="101.77" cy="549.44" rx="3.75" ry="6.21" fill="#c9c6d6"/>
<ellipse cx="101.77" cy="542.55" rx="1.50" ry="1.68" fill="#ecebf2"/>
<ellipse cx="101.77" cy="548.93" rx="2.75" ry="4.70" fill="#ecebf2"/>
<ellipse cx="101.77" cy="554.81" rx="3.75" ry="1.68" fill="#4a2b9e" opacity="0.9"/>
</g>
<g clip-path="url(#c201)">
<clipPath id="c201"><rect x="105.93" y="539.70" width="8.33" height="16.79"/></clipPath>
<rect x="105.93" y="540.30" width="8.33" height="16.19" fill="#3a2490" opacity="0.55"/>
<ellipse cx="110.10" cy="542.55" rx="2.25" ry="2.52" fill="#d6d1e8"/>
<ellipse cx="110.10" cy="549.44" rx="3.75" ry="6.21" fill="#d6d1e8"/>
<ellipse cx="110.10" cy="542.55" rx="1.50" ry="1.68" fill="#f1f0f7"/>
<ellipse cx="110.10" cy="548.93" rx="2.75" ry="4.70" fill="#f1f0f7"/>
<ellipse cx="108.93" cy="544.40" rx="2.50" ry="2.18" fill="#4a2b9e"/>
<ellipse cx="111.43" cy="548.10" rx="2.17" ry="2.01" fill="#4a2b9e"/>
<ellipse cx="108.43" cy="550.11" rx="1.83" ry="1.68" fill="#4a2b9e"/>
<ellipse cx="111.10" cy="553.80" rx="2.67" ry="1.68" fill="#4a2b9e"/>
<ellipse cx="107.60" cy="554.81" rx="1.67" ry="1.34" fill="#3a2490"/>
</g>
<g clip-path="url(#c202)">
<clipPath id="c202"><rect x="114.27" y="539.70" width="8.33" height="16.79"/></clipPath>
<ellipse cx="118.43" cy="542.55" rx="2.25" ry="2.52" fill="#bcbcbc"/>
<ellipse cx="118.43" cy="549.44" rx="3.75" ry="6.21" fill="#bcbcbc"/>
<ellipse cx="118.43" cy="542.55" rx="1.50" ry="1.68" fill="#e2e2e2"/>
<ellipse cx="118.43" cy="548.93" rx="2.75" ry="4.70" fill="#e2e2e2"/>
</g>
<g clip-path="url(#c210)">
<clipPath id="c210"><rect x="97.60" y="556.49" width="8.33" height="16.79"/></clipPath>
<rect x="97.60" y="557.09" width="8.33" height="16.19" fill="#3a2490" opacity="0.8"/>
<ellipse cx="101.77" cy="559.34" rx="2.25" ry="2.52" fill="#4f32b0"/>
<ellipse cx="101.77" cy="566.23" rx="3.75" ry="6.21" fill="#4f32b0"/>
<ellipse cx="101.35" cy="559.85" rx="1.67" ry="1.51" fill="#d9d3ef"/>
<ellipse cx="102.18" cy="566.90" rx="2.17" ry="2.52" fill="#f2f0f8"/>
<ellipse cx="100.52" cy="569.92" rx="1.50" ry="1.18" fill="#e6e2f3"/>
</g>
<g clip-path="url(#c211)">
<clipPath id="c211"><rect x="105.93" y="556.49" width="8.33" height="16.79"/></clipPath>
<ellipse cx="110.10" cy="559.34" rx="2.25" ry="2.52" fill="#bcbcbc"/>
<ellipse cx="110.10" cy="566.23" rx="3.75" ry="6.21" fill="#bcbcbc"/>
<ellipse cx="110.10" cy="559.34" rx="1.50" ry="1.68" fill="#e2e2e2"/>
<ellipse cx="110.10" cy="565.72" rx="2.75" ry="4.70" fill="#e2e2e2"/>
</g>
<g clip-path="url(#c212)">
<clipPath id="c212"><rect x="114.27" y="556.49" width="8.33" height="16.79"/></clipPath>
<ellipse cx="118.43" cy="559.34" rx="2.25" ry="2.52" fill="#c9c6d6"/>
<ellipse cx="118.43" cy="566.23" rx="3.75" ry="6.21" fill="#c9c6d6"/>
<ellipse cx="118.43" cy="559.34" rx="1.50" ry="1.68" fill="#ecebf2"/>
<ellipse cx="118.43" cy="565.72" rx="2.75" ry="4.70" fill="#ecebf2"/>
<ellipse cx="118.43" cy="571.60" rx="3.75" ry="1.68" fill="#4a2b9e" opacity="0.9"/>
</g>
<g clip-path="url(#c220)">
<clipPath id="c220"><rect x="97.60" y="573.28" width="8.33" height="16.79"/></clipPath>
<rect x="97.60" y="573.88" width="8.33" height="16.19" fill="#41289c" opacity="0.95"/>
<ellipse cx="101.77" cy="582.51" rx="3.17" ry="5.37" fill="#2c2fb4"/>
<ellipse cx="102.60" cy="585.03" rx="1.67" ry="2.01" fill="#2b62d4"/>
<ellipse cx="100.93" cy="578.32" rx="1.25" ry="1.68" fill="#6a4cc0"/>
</g>
<g clip-path="url(#c221)">
<clipPath id="c221"><rect x="105.93" y="573.28" width="8.33" height="16.79"/></clipPath>
<ellipse cx="110.10" cy="576.13" rx="2.25" ry="2.52" fill="#bcbcbc"/>
<ellipse cx="110.10" cy="583.02" rx="3.75" ry="6.21" fill="#bcbcbc"/>
<ellipse cx="110.10" cy="576.13" rx="1.50" ry="1.68" fill="#e2e2e2"/>
<ellipse cx="110.10" cy="582.51" rx="2.75" ry="4.70" fill="#e2e2e2"/>
</g>
<g clip-path="url(#c222)">
<clipPath id="c222"><rect x="114.27" y="573.28" width="8.33" height="16.79"/></clipPath>
<rect x="114.27" y="573.88" width="8.33" height="16.19" fill="#3a2490" opacity="0.35"/>
<ellipse cx="118.43" cy="576.13" rx="2.25" ry="2.52" fill="#d0cce0"/>
<ellipse cx="118.43" cy="583.02" rx="3.75" ry="6.21" fill="#d0cce0"/>
<ellipse cx="118.43" cy="576.13" rx="1.50" ry="1.68" fill="#ecebf3"/>
<ellipse cx="118.43" cy="582.51" rx="2.75" ry="4.70" fill="#ecebf3"/>
<ellipse cx="118.43" cy="585.03" rx="3.50" ry="3.36" fill="#4a2b9e"/>
<ellipse cx="118.02" cy="583.69" rx="1.67" ry="1.18" fill="#f4f4f8"/>
</g>
<g clip-path="url(#c230)">
<clipPath id="c230"><rect x="97.60" y="590.07" width="8.33" height="16.79"/></clipPath>
<rect x="97.60" y="590.67" width="8.33" height="16.19" fill="#2a36b8" opacity="0.95"/>
<ellipse cx="101.77" cy="598.47" rx="4.67" ry="7.72" fill="#25b4cc"/>
<ellipse cx="101.77" cy="598.80" rx="4.33" ry="7.05" fill="#46c04a"/>
<ellipse cx="101.60" cy="599.14" rx="3.92" ry="6.46" fill="#f68c1e"/>
<ellipse cx="101.43" cy="599.30" rx="3.58" ry="5.88" fill="#f23d10"/>
</g>
<g clip-path="url(#c231)">
<clipPath id="c231"><rect x="105.93" y="590.07" width="8.33" height="16.79"/></clipPath>
<rect x="105.93" y="590.67" width="8.33" height="16.19" fill="#3530b0" opacity="0.95"/>
<ellipse cx="110.10" cy="598.47" rx="3.33" ry="5.71" fill="#2b62d4"/>
<ellipse cx="110.52" cy="598.47" rx="2.00" ry="2.69" fill="#25b4cc"/>
<ellipse cx="110.93" cy="599.47" rx="1.17" ry="1.34" fill="#46c04a"/>
<ellipse cx="108.43" cy="594.27" rx="1.17" ry="1.34" fill="#25b4cc"/>
</g>
<g clip-path="url(#c232)">
<clipPath id="c232"><rect x="114.27" y="590.07" width="8.33" height="16.79"/></clipPath>
<rect x="114.27" y="590.67" width="8.33" height="16.19" fill="#41289c" opacity="0.95"/>
<ellipse cx="119.27" cy="599.30" rx="2.67" ry="3.36" fill="#2b62d4"/>
<ellipse cx="119.68" cy="600.14" rx="1.50" ry="1.51" fill="#25b4cc"/>
<ellipse cx="120.10" cy="600.48" rx="0.83" ry="0.84" fill="#46c04a"/>
</g>
<g clip-path="url(#c240)">
<clipPath id="c240"><rect x="97.60" y="606.86" width="8.33" height="16.79"/></clipPath>
<rect x="97.60" y="607.46" width="8.33" height="16.19" fill="#2a6ac0" opacity="0.95"/>
<ellipse cx="101.77" cy="615.25" rx="4.17" ry="7.05" fill="#25b4cc"/>
<ellipse cx="100.93" cy="614.42" rx="2.50" ry="6.04" fill="#46c04a"/>
<ellipse cx="100.10" cy="611.90" rx="1.33" ry="2.69" fill="#e6d935"/>
<ellipse cx="99.68" cy="616.09" rx="1.33" ry="3.36" fill="#f68c1e"/>
<ellipse cx="103.43" cy="616.93" rx="1.17" ry="2.69" fill="#f68c1e"/>
<ellipse cx="103.85" cy="611.90" rx="1.17" ry="1.68" fill="#f23d10"/>
</g>
<g clip-path="url(#c241)">
<clipPath id="c241"><rect x="105.93" y="606.86" width="8.33" height="16.79"/></clipPath>
<rect x="105.93" y="607.46" width="8.33" height="16.19" fill="#2a36b8" opacity="0.9"/>
<ellipse cx="110.10" cy="615.25" rx="4.17" ry="7.72" fill="#46c04a"/>
<ellipse cx="110.10" cy="611.90" rx="3.00" ry="3.36" fill="#f68c1e"/>
<ellipse cx="110.10" cy="618.28" rx="3.33" ry="4.03" fill="#f68c1e"/>
<ellipse cx="110.10" cy="611.90" rx="2.50" ry="2.69" fill="#f23d10"/>
<ellipse cx="110.10" cy="618.28" rx="2.83" ry="3.36" fill="#f23d10"/>
</g>
<g clip-path="url(#c242)">
<clipPath id="c242"><rect x="114.27" y="606.86" width="8.33" height="16.79"/></clipPath>
<rect x="114.27" y="607.46" width="8.33" height="16.19" fill="#4a3a70" opacity="0.3"/>
</g>
<g clip-path="url(#c250)">
<clipPath id="c250"><rect x="97.60" y="623.65" width="8.33" height="16.79"/></clipPath>
<rect x="97.60" y="624.25" width="8.33" height="16.19" fill="#3f6a4a" opacity="0.4"/>
<ellipse cx="101.77" cy="632.05" rx="2.50" ry="5.04" fill="#6a5a8a" opacity="0.35"/>
</g>
<g clip-path="url(#c251)">
<clipPath id="c251"><rect x="105.93" y="623.65" width="8.33" height="16.79"/></clipPath>
<rect x="105.93" y="624.25" width="8.33" height="16.19" fill="#33408a" opacity="0.8"/>
<ellipse cx="110.52" cy="627.34" rx="3.17" ry="2.69" fill="#2b62d4"/>
<ellipse cx="110.10" cy="634.06" rx="4.17" ry="6.04" fill="#46c04a"/>
<ellipse cx="110.10" cy="634.40" rx="3.83" ry="5.37" fill="#f68c1e"/>
<ellipse cx="110.10" cy="634.56" rx="3.42" ry="4.70" fill="#f23d10"/>
</g>
<g clip-path="url(#c252)">
<clipPath id="c252"><rect x="114.27" y="623.65" width="8.33" height="16.79"/></clipPath>
<rect x="114.27" y="624.25" width="8.33" height="16.19" fill="#3f6a4a" opacity="0.4"/>
<ellipse cx="118.43" cy="632.05" rx="2.50" ry="5.04" fill="#6a5a8a" opacity="0.35"/>
</g>
<g clip-path="url(#c260)">
<clipPath id="c260"><rect x="97.60" y="640.44" width="8.33" height="16.79"/></clipPath>
<ellipse cx="101.77" cy="649.67" rx="1.83" ry="7.56" fill="#6a6a6a" opacity="0.35"/>
</g>
<g clip-path="url(#c261)">
<clipPath id="c261"><rect x="105.93" y="640.44" width="8.33" height="16.79"/></clipPath>
<ellipse cx="110.10" cy="649.67" rx="1.83" ry="7.56" fill="#6a6a6a" opacity="0.35"/>
</g>
<g clip-path="url(#c262)">
<clipPath id="c262"><rect x="114.27" y="640.44" width="8.33" height="16.79"/></clipPath>
<ellipse cx="118.43" cy="649.67" rx="1.83" ry="7.56" fill="#6a6a6a" opacity="0.3"/>
</g>
<g clip-path="url(#c270)">
<clipPath id="c270"><rect x="97.60" y="657.23" width="8.33" height="16.79"/></clipPath>
<ellipse cx="101.77" cy="666.46" rx="1.83" ry="7.56" fill="#6a6a6a" opacity="0.35"/>
</g>
<g clip-path="url(#c271)">
<clipPath id="c271"><rect x="105.93" y="657.23" width="8.33" height="16.79"/></clipPath>
<ellipse cx="110.10" cy="666.46" rx="1.83" ry="7.56" fill="#6a6a6a" opacity="0.35"/>
</g>
<g clip-path="url(#c272)">
<clipPath id="c272"><rect x="114.27" y="657.23" width="8.33" height="16.79"/></clipPath>
<ellipse cx="118.43" cy="666.46" rx="1.83" ry="7.56" fill="#6a6a6a" opacity="0.3"/>
</g>
<g clip-path="url(#c300)">
<clipPath id="c300"><rect x="129.40" y="539.70" width="8.33" height="16.79"/></clipPath>
<rect x="129.40" y="540.30" width="8.33" height="16.19" fill="#3a2490" opacity="0.55"/>
<ellipse cx="133.57" cy="542.55" rx="2.25" ry="2.52" fill="#d6d1e8"/>
<ellipse cx="133.57" cy="549.44" rx="3.75" ry="6.21" fill="#d6d1e8"/>
<ellipse cx="133.57" cy="542.55" rx="1.50" ry="1.68" fill="#f1f0f7"/>
<ellipse cx="133.57" cy="548.93" rx="2.75" ry="4.70" fill="#f1f0f7"/>
<ellipse cx="132.40" cy="544.40" rx="2.50" ry="2.18" fill="#4a2b9e"/>
<ellipse cx="134.90" cy="548.10" rx="2.17" ry="2.01" fill="#4a2b9e"/>
<ellipse cx="131.90" cy="550.11" rx="1.83" ry="1.68" fill="#4a2b9e"/>
<ellipse cx="134.57" cy="553.80" rx="2.67" ry="1.68" fill="#4a2b9e"/>
<ellipse cx="131.07" cy="554.81" rx="1.67" ry="1.34" fill="#3a2490"/>
</g>
<g clip-path="url(#c301)">
<clipPath id="c301"><rect x="137.73" y="539.70" width="8.33" height="16.79"/></clipPath>
<ellipse cx="141.90" cy="542.55" rx="2.25" ry="2.52" fill="#bcbcbc"/>
<ellipse cx="141.90" cy="549.44" rx="3.75" ry="6.21" fill="#bcbcbc"/>
<ellipse cx="141.90" cy="542.55" rx="1.50" ry="1.68" fill="#e2e2e2"/>
<ellipse cx="141.90" cy="548.93" rx="2.75" ry="4.70" fill="#e2e2e2"/>
</g>
<g clip-path="url(#c302)">
<clipPath id="c302"><rect x="146.07" y="539.70" width="8.33" height="16.79"/></clipPath>
<ellipse cx="150.23" cy="542.55" rx="2.25" ry="2.52" fill="#bcbcbc"/>
<ellipse cx="150.23" cy="549.44" rx="3.75" ry="6.21" fill="#bcbcbc"/>
<ellipse cx="150.23" cy="542.55" rx="1.50" ry="1.68" fill="#e2e2e2"/>
<ellipse cx="150.23" cy="548.93" rx="2.75" ry="4.70" fill="#e2e2e2"/>
</g>
<g clip-path="url(#c310)">
<clipPath id="c310"><rect x="129.40" y="556.49" width="8.33" height="16.79"/></clipPath>
<rect x="129.40" y="557.09" width="8.33" height="16.19" fill="#3a2490" opacity="0.55"/>
<ellipse cx="133.57" cy="559.34" rx="2.25" ry="2.52" fill="#d6d1e8"/>
<ellipse cx="133.57" cy="566.23" rx="3.75" ry="6.21" fill="#d6d1e8"/>
<ellipse cx="133.57" cy="559.34" rx="1.50" ry="1.68" fill="#f1f0f7"/>
<ellipse cx="133.57" cy="565.72" rx="2.75" ry="4.70" fill="#f1f0f7"/>
<ellipse cx="132.40" cy="561.19" rx="2.50" ry="2.18" fill="#4a2b9e"/>
<ellipse cx="134.90" cy="564.88" rx="2.17" ry="2.01" fill="#4a2b9e"/>
<ellipse cx="131.90" cy="566.90" rx="1.83" ry="1.68" fill="#4a2b9e"/>
<ellipse cx="134.57" cy="570.59" rx="2.67" ry="1.68" fill="#4a2b9e"/>
<ellipse cx="131.07" cy="571.60" rx="1.67" ry="1.34" fill="#3a2490"/>
</g>
<g clip-path="url(#c311)">
<clipPath id="c311"><rect x="137.73" y="556.49" width="8.33" height="16.79"/></clipPath>
<ellipse cx="141.90" cy="559.34" rx="2.25" ry="2.52" fill="#bcbcbc"/>
<ellipse cx="141.90" cy="566.23" rx="3.75" ry="6.21" fill="#bcbcbc"/>
<ellipse cx="141.90" cy="559.34" rx="1.50" ry="1.68" fill="#e2e2e2"/>
<ellipse cx="141.90" cy="565.72" rx="2.75" ry="4.70" fill="#e2e2e2"/>
</g>
<g clip-path="url(#c312)">
<clipPath id="c312"><rect x="146.07" y="556.49" width="8.33" height="16.79"/></clipPath>
<ellipse cx="150.23" cy="559.34" rx="2.25" ry="2.52" fill="#bcbcbc"/>
<ellipse cx="150.23" cy="566.23" rx="3.75" ry="6.21" fill="#bcbcbc"/>
<ellipse cx="150.23" cy="559.34" rx="1.50" ry="1.68" fill="#e2e2e2"/>
<ellipse cx="150.23" cy="565.72" rx="2.75" ry="4.70" fill="#e2e2e2"/>
</g>
<g clip-path="url(#c320)">
<clipPath id="c320"><rect x="129.40" y="573.28" width="8.33" height="16.79"/></clipPath>
<rect x="129.40" y="573.88" width="8.33" height="16.19" fill="#3a2490" opacity="0.55"/>
<ellipse cx="133.57" cy="576.13" rx="2.25" ry="2.52" fill="#d6d1e8"/>
<ellipse cx="133.57" cy="583.02" rx="3.75" ry="6.21" fill="#d6d1e8"/>
<ellipse cx="133.57" cy="576.13" rx="1.50" ry="1.68" fill="#f1f0f7"/>
<ellipse cx="133.57" cy="582.51" rx="2.75" ry="4.70" fill="#f1f0f7"/>
<ellipse cx="132.40" cy="577.98" rx="2.50" ry="2.18" fill="#4a2b9e"/>
<ellipse cx="134.90" cy="581.68" rx="2.17" ry="2.01" fill="#4a2b9e"/>
<ellipse cx="131.90" cy="583.69" rx="1.83" ry="1.68" fill="#4a2b9e"/>
<ellipse cx="134.57" cy="587.38" rx="2.67" ry="1.68" fill="#4a2b9e"/>
<ellipse cx="131.07" cy="588.39" rx="1.67" ry="1.34" fill="#3a2490"/>
</g>
<g clip-path="url(#c321)">
<clipPath id="c321"><rect x="137.73" y="573.28" width="8.33" height="16.79"/></clipPath>
<ellipse cx="141.90" cy="576.13" rx="2.25" ry="2.52" fill="#bcbcbc"/>
<ellipse cx="141.90" cy="583.02" rx="3.75" ry="6.21" fill="#bcbcbc"/>
<ellipse cx="141.90" cy="576.13" rx="1.50" ry="1.68" fill="#e2e2e2"/>
<ellipse cx="141.90" cy="582.51" rx="2.75" ry="4.70" fill="#e2e2e2"/>
</g>
<g clip-path="url(#c322)">
<clipPath id="c322"><rect x="146.07" y="573.28" width="8.33" height="16.79"/></clipPath>
<ellipse cx="150.23" cy="576.13" rx="2.25" ry="2.52" fill="#bcbcbc"/>
<ellipse cx="150.23" cy="583.02" rx="3.75" ry="6.21" fill="#bcbcbc"/>
<ellipse cx="150.23" cy="576.13" rx="1.50" ry="1.68" fill="#e2e2e2"/>
<ellipse cx="150.23" cy="582.51" rx="2.75" ry="4.70" fill="#e2e2e2"/>
</g>
<g clip-path="url(#c330)">
<clipPath id="c330"><rect x="129.40" y="590.07" width="8.33" height="16.79"/></clipPath>
<rect x="129.40" y="590.67" width="8.33" height="16.19" fill="#2a36b8" opacity="0.95"/>
<ellipse cx="133.57" cy="598.47" rx="4.67" ry="7.72" fill="#25b4cc"/>
<ellipse cx="133.57" cy="598.80" rx="4.33" ry="7.05" fill="#46c04a"/>
<ellipse cx="133.40" cy="599.14" rx="3.92" ry="6.46" fill="#f68c1e"/>
<ellipse cx="133.23" cy="599.30" rx="3.58" ry="5.88" fill="#f23d10"/>
</g>
<g clip-path="url(#c331)">
<clipPath id="c331"><rect x="137.73" y="590.07" width="8.33" height="16.79"/></clipPath>
<rect x="137.73" y="590.67" width="8.33" height="16.19" fill="#4a3aa0" opacity="0.3"/>
<ellipse cx="141.90" cy="592.92" rx="2.25" ry="2.52" fill="#cfc8e2"/>
<ellipse cx="141.90" cy="599.81" rx="3.75" ry="6.21" fill="#cfc8e2"/>
<ellipse cx="141.90" cy="592.92" rx="1.50" ry="1.68" fill="#ebe8f3"/>
<ellipse cx="141.90" cy="599.30" rx="2.75" ry="4.70" fill="#ebe8f3"/>
<ellipse cx="140.23" cy="595.95" rx="1.67" ry="3.36" fill="#8a74c8" opacity="0.7"/>
</g>
<g clip-path="url(#c332)">
<clipPath id="c332"><rect x="146.07" y="590.07" width="8.33" height="16.79"/></clipPath>
<ellipse cx="150.23" cy="592.92" rx="2.25" ry="2.52" fill="#bcbcbc"/>
<ellipse cx="150.23" cy="599.81" rx="3.75" ry="6.21" fill="#bcbcbc"/>
<ellipse cx="150.23" cy="592.92" rx="1.50" ry="1.68" fill="#e2e2e2"/>
<ellipse cx="150.23" cy="599.30" rx="2.75" ry="4.70" fill="#e2e2e2"/>
</g>
<g clip-path="url(#c340)">
<clipPath id="c340"><rect x="129.40" y="606.86" width="8.33" height="16.79"/></clipPath>
<ellipse cx="133.57" cy="609.71" rx="2.25" ry="2.52" fill="#d2d0dc"/>
<ellipse cx="133.57" cy="616.60" rx="3.75" ry="6.21" fill="#d2d0dc"/>
<ellipse cx="133.57" cy="609.71" rx="1.50" ry="1.68" fill="#f1f0f6"/>
<ellipse cx="133.57" cy="616.09" rx="2.75" ry="4.70" fill="#f1f0f6"/>
<ellipse cx="132.73" cy="616.93" rx="1.08" ry="1.18" fill="#4a2b9e"/>
<ellipse cx="133.15" cy="620.96" rx="1.67" ry="1.01" fill="#4a2b9e"/>
</g>
<g clip-path="url(#c341)">
<clipPath id="c341"><rect x="137.73" y="606.86" width="8.33" height="16.79"/></clipPath>
<ellipse cx="141.90" cy="609.71" rx="2.25" ry="2.52" fill="#bcbcbc"/>
<ellipse cx="141.90" cy="616.60" rx="3.75" ry="6.21" fill="#bcbcbc"/>
<ellipse cx="141.90" cy="609.71" rx="1.50" ry="1.68" fill="#e2e2e2"/>
<ellipse cx="141.90" cy="616.09" rx="2.75" ry="4.70" fill="#e2e2e2"/>
</g>
<g clip-path="url(#c342)">
<clipPath id="c342"><rect x="146.07" y="606.86" width="8.33" height="16.79"/></clipPath>
<rect x="146.07" y="607.46" width="8.33" height="16.19" fill="#6e6e6e" opacity="0.6"/>
</g>
<g clip-path="url(#c350)">
<clipPath id="c350"><rect x="129.40" y="623.65" width="8.33" height="16.79"/></clipPath>
<ellipse cx="133.57" cy="626.50" rx="2.25" ry="2.52" fill="#d2d0dc"/>
<ellipse cx="133.57" cy="633.39" rx="3.75" ry="6.21" fill="#d2d0dc"/>
<ellipse cx="133.57" cy="626.50" rx="1.50" ry="1.68" fill="#f1f0f6"/>
<ellipse cx="133.57" cy="632.88" rx="2.75" ry="4.70" fill="#f1f0f6"/>
<ellipse cx="132.73" cy="633.72" rx="1.08" ry="1.18" fill="#4a2b9e"/>
<ellipse cx="133.15" cy="637.75" rx="1.67" ry="1.01" fill="#4a2b9e"/>
</g>
<g clip-path="url(#c351)">
<clipPath id="c351"><rect x="137.73" y="623.65" width="8.33" height="16.79"/></clipPath>
<ellipse cx="141.90" cy="626.50" rx="2.25" ry="2.52" fill="#a6a6a6"/>
<ellipse cx="141.90" cy="633.39" rx="3.75" ry="6.21" fill="#a6a6a6"/>
<ellipse cx="141.90" cy="626.50" rx="1.50" ry="1.68" fill="#c9c9c9"/>
<ellipse cx="141.90" cy="632.88" rx="2.75" ry="4.70" fill="#c9c9c9"/>
</g>
<g clip-path="url(#c352)">
<clipPath id="c352"><rect x="146.07" y="623.65" width="8.33" height="16.79"/></clipPath>
<ellipse cx="150.23" cy="632.88" rx="1.83" ry="7.56" fill="#6a6a6a" opacity="0.35"/>
</g>
<g clip-path="url(#c360)">
<clipPath id="c360"><rect x="129.40" y="640.44" width="8.33" height="16.79"/></clipPath>
<ellipse cx="133.57" cy="649.67" rx="1.83" ry="7.56" fill="#6a6a6a" opacity="0.35"/>
</g>
<g clip-path="url(#c361)">
<clipPath id="c361"><rect x="137.73" y="640.44" width="8.33" height="16.79"/></clipPath>
<ellipse cx="141.90" cy="643.29" rx="2.25" ry="2.52" fill="#a6a6a6"/>
<ellipse cx="141.90" cy="650.18" rx="3.75" ry="6.21" fill="#a6a6a6"/>
<ellipse cx="141.90" cy="643.29" rx="1.50" ry="1.68" fill="#c9c9c9"/>
<ellipse cx="141.90" cy="649.67" rx="2.75" ry="4.70" fill="#c9c9c9"/>
</g>
<g clip-path="url(#c362)">
<clipPath id="c362"><rect x="146.07" y="640.44" width="8.33" height="16.79"/></clipPath>
<ellipse cx="150.23" cy="649.67" rx="1.83" ry="7.56" fill="#6a6a6a" opacity="0.35"/>
</g>
<g clip-path="url(#c370)">
<clipPath id="c370"><rect x="129.40" y="657.23" width="8.33" height="16.79"/></clipPath>
<ellipse cx="133.57" cy="666.46" rx="1.83" ry="7.56" fill="#6a6a6a" opacity="0.35"/>
</g>
<g clip-path="url(#c371)">
<clipPath id="c371"><rect x="137.73" y="657.23" width="8.33" height="16.79"/></clipPath>
<ellipse cx="141.90" cy="659.92" rx="2.67" ry="2.52" fill="#ececec"/>
<ellipse cx="141.07" cy="661.76" rx="1.67" ry="1.01" fill="#f2a8b4"/>
<ellipse cx="141.90" cy="667.98" rx="3.83" ry="5.04" fill="#2c2fb4"/>
<ellipse cx="141.90" cy="667.98" rx="2.67" ry="3.19" fill="#2b62d4"/>
<ellipse cx="142.07" cy="667.64" rx="1.83" ry="2.01" fill="#46c04a"/>
<ellipse cx="142.07" cy="667.64" rx="1.00" ry="1.09" fill="#e6d935"/>
<ellipse cx="142.07" cy="667.64" rx="0.50" ry="0.59" fill="#f23d10"/>
</g>
<g clip-path="url(#c372)">
<clipPath id="c372"><rect x="146.07" y="657.23" width="8.33" height="16.79"/></clipPath>
<ellipse cx="150.23" cy="666.46" rx="1.83" ry="7.56" fill="#6a6a6a" opacity="0.35"/>
</g>
</g>
<rect x="34.70" y="539.70" width="25.00" height="0.80" fill="#151515" opacity="0.75"/>
<rect x="34.70" y="556.49" width="25.00" height="0.80" fill="#151515" opacity="0.75"/>
<rect x="34.70" y="573.28" width="25.00" height="0.80" fill="#151515" opacity="0.75"/>
<rect x="34.70" y="590.07" width="25.00" height="0.80" fill="#151515" opacity="0.75"/>
<rect x="34.70" y="606.86" width="25.00" height="0.80" fill="#151515" opacity="0.75"/>
<rect x="34.70" y="623.65" width="25.00" height="0.80" fill="#151515" opacity="0.75"/>
<rect x="34.70" y="640.44" width="25.00" height="0.80" fill="#151515" opacity="0.75"/>
<rect x="34.70" y="657.23" width="25.00" height="0.80" fill="#151515" opacity="0.75"/>
<rect x="66.20" y="539.70" width="25.00" height="0.80" fill="#151515" opacity="0.75"/>
<rect x="66.20" y="556.49" width="25.00" height="0.80" fill="#151515" opacity="0.75"/>
<rect x="66.20" y="573.28" width="25.00" height="0.80" fill="#151515" opacity="0.75"/>
<rect x="66.20" y="590.07" width="25.00" height="0.80" fill="#151515" opacity="0.75"/>
<rect x="66.20" y="606.86" width="25.00" height="0.80" fill="#151515" opacity="0.75"/>
<rect x="66.20" y="623.65" width="25.00" height="0.80" fill="#151515" opacity="0.75"/>
<rect x="66.20" y="640.44" width="25.00" height="0.80" fill="#151515" opacity="0.75"/>
<rect x="66.20" y="657.23" width="25.00" height="0.80" fill="#151515" opacity="0.75"/>
<rect x="97.60" y="539.70" width="25.00" height="0.80" fill="#151515" opacity="0.75"/>
<rect x="97.60" y="556.49" width="25.00" height="0.80" fill="#151515" opacity="0.75"/>
<rect x="97.60" y="573.28" width="25.00" height="0.80" fill="#151515" opacity="0.75"/>
<rect x="97.60" y="590.07" width="25.00" height="0.80" fill="#151515" opacity="0.75"/>
<rect x="97.60" y="606.86" width="25.00" height="0.80" fill="#151515" opacity="0.75"/>
<rect x="97.60" y="623.65" width="25.00" height="0.80" fill="#151515" opacity="0.75"/>
<rect x="97.60" y="640.44" width="25.00" height="0.80" fill="#151515" opacity="0.75"/>
<rect x="97.60" y="657.23" width="25.00" height="0.80" fill="#151515" opacity="0.75"/>
<rect x="129.40" y="539.70" width="25.00" height="0.80" fill="#151515" opacity="0.75"/>
<rect x="129.40" y="556.49" width="25.00" height="0.80" fill="#151515" opacity="0.75"/>
<rect x="129.40" y="573.28" width="25.00" height="0.80" fill="#151515" opacity="0.75"/>
<rect x="129.40" y="590.07" width="25.00" height="0.80" fill="#151515" opacity="0.75"/>
<rect x="129.40" y="606.86" width="25.00" height="0.80" fill="#151515" opacity="0.75"/>
<rect x="129.40" y="623.65" width="25.00" height="0.80" fill="#151515" opacity="0.75"/>
<rect x="129.40" y="640.44" width="25.00" height="0.80" fill="#151515" opacity="0.75"/>
<rect x="129.40" y="657.23" width="25.00" height="0.80" fill="#151515" opacity="0.75"/>
</g>
<text x="47.00" y="683.00" font-size="7.0" text-anchor="middle" textLength="12.00" lengthAdjust="spacingAndGlyphs">PBS</text>
<text x="78.60" y="683.00" font-size="7.0" text-anchor="middle" textLength="30.30" lengthAdjust="spacingAndGlyphs">AMG 673</text>
<text x="109.80" y="683.00" font-size="7.0" text-anchor="middle" textLength="20.30" lengthAdjust="spacingAndGlyphs">diABZI</text>
<text x="141.40" y="683.00" font-size="7.0" text-anchor="middle" textLength="29.20" lengthAdjust="spacingAndGlyphs">AMG 673</text>
<text x="141.40" y="691.80" font-size="7.0" text-anchor="middle" textLength="26.20" lengthAdjust="spacingAndGlyphs">+ diABZI</text>
<text x="163.00" y="537.00" font-size="6.4" textLength="43.60" lengthAdjust="spacingAndGlyphs">Luminescence</text>
<rect x="163.40" y="545.20" width="2.90" height="114.80" fill="url(#cb)"/>
<text x="171.60" y="547.60" font-size="7.0">10000</text>
<text x="171.60" y="570.70" font-size="7.0">8000</text>
<text x="171.60" y="593.80" font-size="7.0">6000</text>
<text x="171.60" y="616.90" font-size="7.0">4000</text>
<text x="171.60" y="640.00" font-size="7.0">2000</text>
<text x="163.00" y="669.60" font-size="6.4" textLength="21.60" lengthAdjust="spacingAndGlyphs">Counts</text>
<text x="163.00" y="680.80" font-size="6.4" textLength="34.60" lengthAdjust="spacingAndGlyphs">Color scale</text>
<text x="163.00" y="689.20" font-size="6.4" textLength="32.60" lengthAdjust="spacingAndGlyphs">Min = 100</text>
<text x="163.00" y="697.40" font-size="6.4" textLength="42.40" lengthAdjust="spacingAndGlyphs">Max = 10000</text>
<rect x="0" y="0" width="1.1" height="709" fill="#474747"/><rect x="0" y="0" width="520" height="1.2" fill="#474747"/><rect x="518.4" y="0" width="1.6" height="709" fill="#474747"/><rect x="0" y="707.4" width="520" height="1.6" fill="#474747"/>
</svg></body></html>
